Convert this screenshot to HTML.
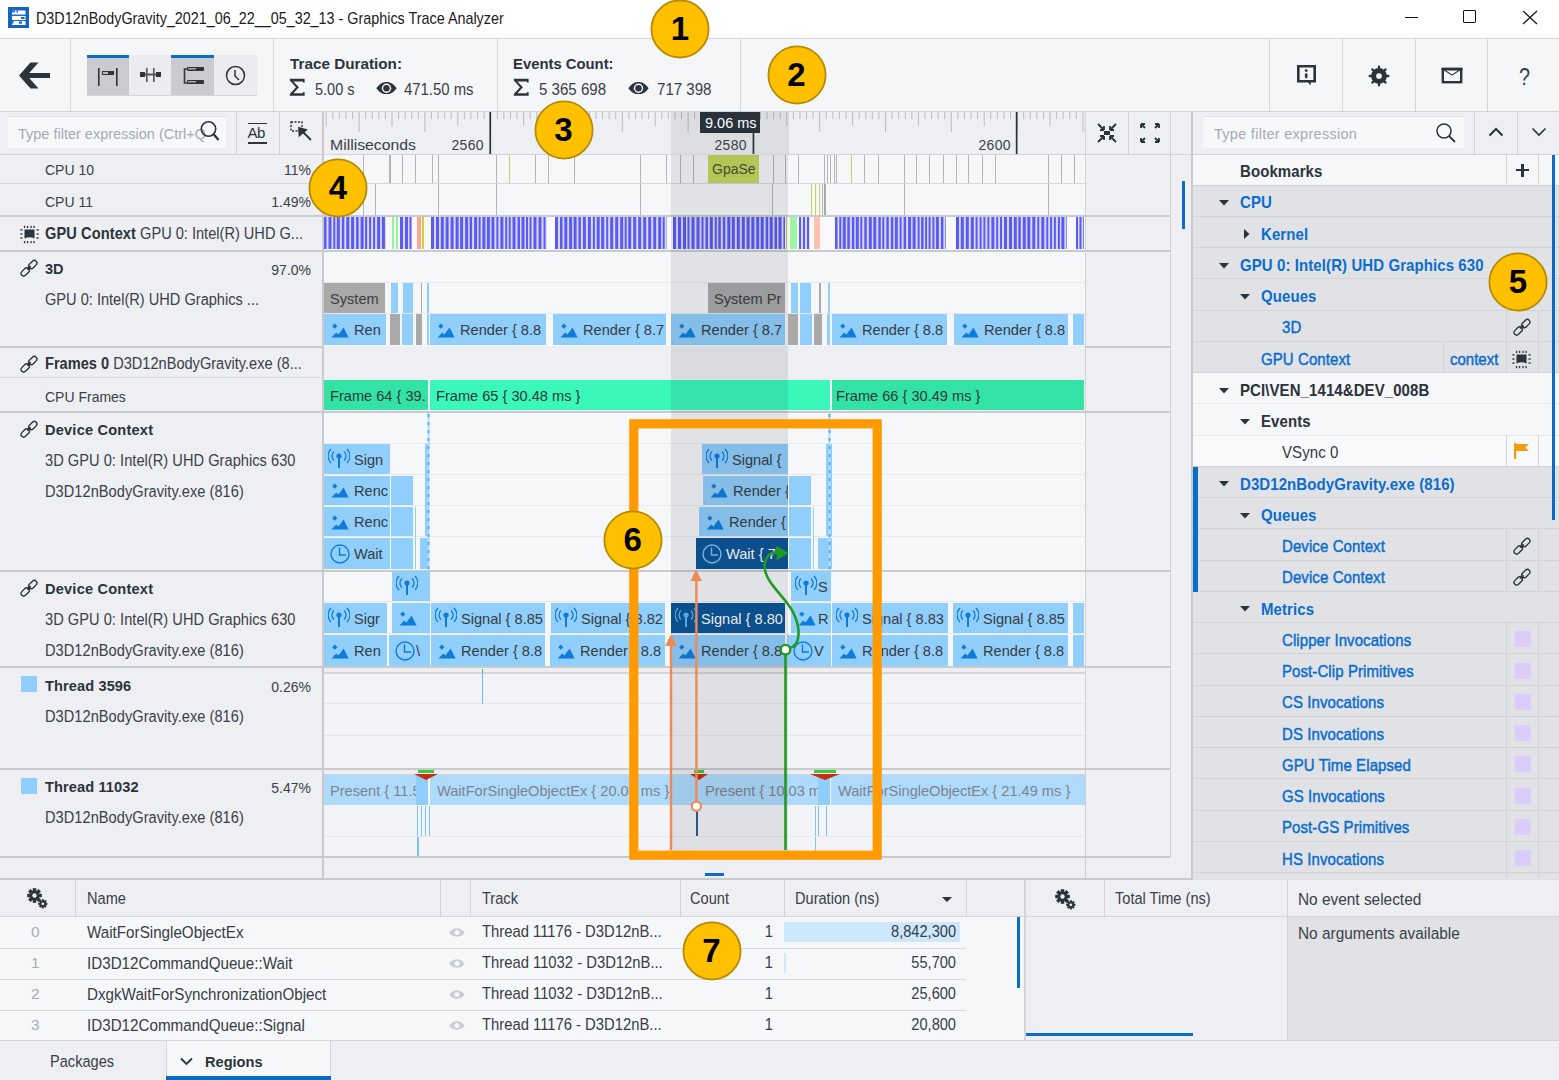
<!DOCTYPE html>
<html><head><meta charset="utf-8"><style>
html,body{margin:0;padding:0;width:1559px;height:1080px;overflow:hidden;background:#eeeff2;}
body{position:relative;font-family:"Liberation Sans",sans-serif;}
body>div,body>svg{position:absolute;}
.t{white-space:nowrap;}
</style></head><body>
<div style="left:0px;top:0px;width:1559px;height:38px;background:#ffffff;"></div>
<div style="left:0px;top:38px;width:1559px;height:1px;background:#d6d7da;"></div>
<svg style="position:absolute;left:8px;top:7px;" width="21" height="21" viewBox="0 0 21 21"><rect width="21" height="21" fill="#1565c8"/><path d="M4 4H17V17H4Z" fill="#1d70d0"/><rect x="4" y="3.5" width="13.5" height="4" fill="#fff"/><rect x="4" y="3.5" width="3" height="1.8" fill="#1565c8"/><rect x="8.5" y="3.5" width="1.5" height="2" fill="#1565c8"/><rect x="4" y="9" width="13.5" height="4" fill="#fff"/><rect x="13" y="10" width="3.5" height="2" fill="#1565c8"/><rect x="4" y="14" width="13.5" height="4" fill="#fff"/><rect x="4" y="14" width="1.5" height="2.5" fill="#1565c8"/><rect x="11" y="14.5" width="3" height="2.2" fill="#1565c8"/></svg>
<div class="t" style="left:36px;top:8.4px;height:21px;line-height:21px;font-size:16.40px;font-weight:normal;color:#1a1a1a;transform:scaleX(0.8760);transform-origin:0 50%;">D3D12nBodyGravity_2021_06_22__05_32_13 - Graphics Trace Analyzer</div>
<div style="left:1405px;top:17px;width:13px;height:1px;background:#111;"></div>
<div style="left:1463px;top:10px;width:11px;height:11px;border:1.3px solid #111;border-radius:1px"></div>
<svg style="position:absolute;left:1522px;top:10px;" width="16" height="15" viewBox="0 0 16 15"><path d="M1 1L15 14M15 1L1 14" stroke="#111" stroke-width="1.2"/></svg>
<div style="left:0px;top:39px;width:1559px;height:72px;background:#f5f6f8;"></div>
<div style="left:0px;top:111px;width:1559px;height:1px;background:#d3d4d8;"></div>
<div style="left:70px;top:39px;width:1px;height:72px;background:#d6d7da;"></div>
<div style="left:273px;top:39px;width:1px;height:72px;background:#d6d7da;"></div>
<div style="left:497px;top:39px;width:1px;height:72px;background:#d6d7da;"></div>
<div style="left:740px;top:39px;width:1px;height:72px;background:#d6d7da;"></div>
<div style="left:1269px;top:39px;width:1px;height:72px;background:#d6d7da;"></div>
<div style="left:1342px;top:39px;width:1px;height:72px;background:#d6d7da;"></div>
<div style="left:1415px;top:39px;width:1px;height:72px;background:#d6d7da;"></div>
<div style="left:1487px;top:39px;width:1px;height:72px;background:#d6d7da;"></div>
<svg style="position:absolute;left:19px;top:62px;" width="32" height="27" viewBox="0 0 32 27"><path d="M0 13.5L11.5 0.5H19.5L10.2 11H31V16H10.2L19.5 26.5H11.5Z" fill="#2b333b"/></svg>
<div style="left:87px;top:55px;width:170px;height:41px;background:#ebecef;"></div>
<div style="left:87px;top:55px;width:42px;height:41px;background:#c9cbcf;"></div>
<div style="left:171px;top:55px;width:43px;height:41px;background:#c9cbcf;"></div>
<div style="left:87px;top:55px;width:42px;height:3px;background:#0b6bc8;"></div>
<div style="left:171px;top:55px;width:43px;height:3px;background:#0b6bc8;"></div>
<div style="left:87px;top:95px;width:170px;height:1px;background:#d4d5d8;"></div>
<svg style="position:absolute;left:98px;top:68px;" width="20" height="18" viewBox="0 0 20 18"><rect x="0" y="0" width="1.6" height="18" fill="#333"/><rect x="18" y="0" width="1.6" height="18" fill="#333"/><rect x="4" y="3" width="12" height="4" fill="#333"/><rect x="5" y="4" width="5" height="2" fill="#bbb"/></svg>
<svg style="position:absolute;left:140px;top:67px;" width="22" height="16" viewBox="0 0 22 16"><rect x="0" y="5" width="5" height="5" fill="#333"/><rect x="16" y="5" width="5" height="5" fill="#333"/><rect x="6" y="1" width="1.6" height="14" fill="#555"/><rect x="13" y="1" width="1.6" height="14" fill="#555"/><rect x="5" y="6.5" width="11" height="2" fill="#555"/></svg>
<svg style="position:absolute;left:183px;top:66px;" width="22" height="20" viewBox="0 0 22 20"><path d="M4 3H1.5V17H4" stroke="#333" stroke-width="1.6" fill="none"/><rect x="4" y="1" width="17" height="4" rx="1" fill="#333"/><rect x="4" y="14" width="17" height="4" rx="1" fill="#333"/><rect x="5" y="2" width="8" height="1.5" fill="#aaa"/><rect x="5" y="15" width="8" height="1.5" fill="#aaa"/></svg>
<svg style="position:absolute;left:225px;top:65px;" width="21" height="21" viewBox="0 0 21 21"><circle cx="10.5" cy="10.5" r="9" stroke="#333" stroke-width="1.5" fill="none"/><path d="M10 5V11L14 15" stroke="#333" stroke-width="1.5" fill="none"/></svg>
<div class="t" style="left:289.5px;top:54.0px;height:20px;line-height:20px;font-size:15.50px;font-weight:bold;color:#2b333b;transform:scaleX(0.9852);transform-origin:0 50%;">Trace Duration:</div>
<svg style="position:absolute;left:289px;top:78px;" width="17" height="19" viewBox="0 0 17 19"><path d="M0.8 0.8H15.6V4.6H13.9V3.4H4.4L9.9 9.2L4.4 15.2H13.9V14H15.6V17.8H0.8V16L7 9.2L0.8 2.6Z" fill="#2b333b"/></svg>
<div class="t" style="left:314.5px;top:79.6px;height:20px;line-height:20px;font-size:16.00px;font-weight:normal;color:#3a4048;transform:scaleX(0.9063);transform-origin:0 50%;">5.00 s</div>
<svg style="position:absolute;left:376px;top:81.5px;" width="21" height="12.5" viewBox="0 0 21 12.5"><svg viewBox="0 0 21 12.5" width="21" height="12.5"><path d="M0.3 6.25C4 1 8 0.1 10.5 0.1S17 1 20.7 6.25C17 11.5 13 12.4 10.5 12.4S4 11.5 0.3 6.25Z" fill="#2b333b"/><circle cx="10.5" cy="6.25" r="4.7" fill="#f5f6f8"/><circle cx="10.5" cy="6.25" r="3.2" fill="#2b333b"/></svg></svg>
<div class="t" style="left:404px;top:79.6px;height:20px;line-height:20px;font-size:16.00px;font-weight:normal;color:#3a4048;transform:scaleX(0.9303);transform-origin:0 50%;">471.50 ms</div>
<div class="t" style="left:513px;top:54.0px;height:20px;line-height:20px;font-size:15.50px;font-weight:bold;color:#2b333b;transform:scaleX(0.9567);transform-origin:0 50%;">Events Count:</div>
<svg style="position:absolute;left:513px;top:78px;" width="17" height="19" viewBox="0 0 17 19"><path d="M0.8 0.8H15.6V4.6H13.9V3.4H4.4L9.9 9.2L4.4 15.2H13.9V14H15.6V17.8H0.8V16L7 9.2L0.8 2.6Z" fill="#2b333b"/></svg>
<div class="t" style="left:538.5px;top:79.6px;height:20px;line-height:20px;font-size:16.00px;font-weight:normal;color:#3a4048;transform:scaleX(0.9414);transform-origin:0 50%;">5 365 698</div>
<svg style="position:absolute;left:628px;top:81.5px;" width="21" height="12.5" viewBox="0 0 21 12.5"><svg viewBox="0 0 21 12.5" width="21" height="12.5"><path d="M0.3 6.25C4 1 8 0.1 10.5 0.1S17 1 20.7 6.25C17 11.5 13 12.4 10.5 12.4S4 11.5 0.3 6.25Z" fill="#2b333b"/><circle cx="10.5" cy="6.25" r="4.7" fill="#f5f6f8"/><circle cx="10.5" cy="6.25" r="3.2" fill="#2b333b"/></svg></svg>
<div class="t" style="left:656.5px;top:79.6px;height:20px;line-height:20px;font-size:16.00px;font-weight:normal;color:#3a4048;transform:scaleX(0.9424);transform-origin:0 50%;">717 398</div>
<svg style="position:absolute;left:1296px;top:64px;" width="21" height="23" viewBox="0 0 21 23"><path d="M2.3 2.3H18.7V17.2H2.3Z" stroke="#2b333b" stroke-width="2.6" fill="none"/><path d="M11 17L14.5 21.5L15 17Z" fill="#2b333b"/><circle cx="10.2" cy="6.6" r="1.4" fill="#2b333b"/><rect x="8.9" y="9.2" width="2.6" height="5" rx="1.2" fill="#2b333b"/></svg>
<svg style="position:absolute;left:1368px;top:65px;" width="22" height="22" viewBox="0 0 22 22"><circle cx="11" cy="11" r="7.92" fill="#2b333b"/><rect x="9.85" y="0.55" width="2.3" height="5.50" rx="1.1" fill="#2b333b" transform="rotate(0.0 11 11)"/><rect x="9.85" y="0.55" width="2.3" height="5.50" rx="1.1" fill="#2b333b" transform="rotate(45.0 11 11)"/><rect x="9.85" y="0.55" width="2.3" height="5.50" rx="1.1" fill="#2b333b" transform="rotate(90.0 11 11)"/><rect x="9.85" y="0.55" width="2.3" height="5.50" rx="1.1" fill="#2b333b" transform="rotate(135.0 11 11)"/><rect x="9.85" y="0.55" width="2.3" height="5.50" rx="1.1" fill="#2b333b" transform="rotate(180.0 11 11)"/><rect x="9.85" y="0.55" width="2.3" height="5.50" rx="1.1" fill="#2b333b" transform="rotate(225.0 11 11)"/><rect x="9.85" y="0.55" width="2.3" height="5.50" rx="1.1" fill="#2b333b" transform="rotate(270.0 11 11)"/><rect x="9.85" y="0.55" width="2.3" height="5.50" rx="1.1" fill="#2b333b" transform="rotate(315.0 11 11)"/><circle cx="11" cy="11" r="2.86" fill="#f5f6f8"/></svg>
<svg style="position:absolute;left:1441px;top:67px;" width="22" height="17" viewBox="0 0 22 17"><rect x="1.8" y="2" width="18.4" height="13.2" stroke="#2b333b" stroke-width="2.4" fill="none"/><rect x="0.6" y="0.8" width="20.8" height="2.6" fill="#2b333b"/><path d="M2.5 2.5L11 8.2L19.5 2.5" stroke="#2b333b" stroke-width="1.1" fill="none"/></svg>
<div class="t" style="left:1518.5px;top:63.0px;height:29px;line-height:29px;font-size:23.00px;font-weight:normal;color:#3a4048;transform:scaleX(0.8600);transform-origin:0 50%;">?</div>
<div style="left:0px;top:112px;width:1559px;height:42px;background:#eeeff2;"></div>
<div style="left:0px;top:154px;width:1191px;height:1px;background:#d3d4d8;"></div>
<div style="left:8px;top:116px;width:218px;height:32px;background:#f7f8fa;border-top:1.5px solid #dfe0e3;box-sizing:border-box"></div>
<div class="t" style="left:18px;top:123.5px;height:19px;line-height:19px;font-size:15.37px;font-weight:normal;color:#a3abb5;transform:scaleX(0.9434);transform-origin:0 50%;width:200px;overflow:hidden;white-space:nowrap">Type filter expression (Ctrl+Q</div>
<svg style="position:absolute;left:198px;top:119px;" width="24" height="24" viewBox="0 0 24 24"><circle cx="10.5" cy="10" r="7.2" stroke="#2b333b" stroke-width="1.6" fill="none"/><path d="M15.5 15L20.5 21" stroke="#2b333b" stroke-width="2.2"/></svg>
<div style="left:236px;top:112px;width:1px;height:42px;background:#d3d4d8;"></div>
<div style="left:279px;top:112px;width:1px;height:42px;background:#d3d4d8;"></div>
<div style="left:322px;top:112px;width:2px;height:42px;background:#c9cacd;"></div>
<div style="left:248px;top:123px;width:19px;height:1px;background:#2b333b;"></div>
<div class="t" style="left:247.5px;top:123.0px;height:19px;line-height:19px;font-size:15.00px;font-weight:normal;color:#2b333b;letter-spacing:-0.5px">Ab</div>
<div style="left:248px;top:142px;width:19px;height:1.5px;background:#2b333b;"></div>
<svg style="position:absolute;left:290px;top:121px;" width="24" height="24" viewBox="0 0 24 24"><rect x="1" y="1" width="11" height="9" stroke="#2b333b" stroke-width="1.4" stroke-dasharray="2 1.5" fill="none"/><path d="M9 7L21 19M9 7L9.5 14.5L16 9Z" stroke="#2b333b" stroke-width="1.8" fill="#2b333b"/></svg>
<svg style="position:absolute;left:324px;top:112px;" width="761" height="42" viewBox="0 0 761 42"><rect x="1.70" y="0" width="1" height="14" fill="#b9bcc1"/><rect x="8.28" y="0" width="1" height="7" fill="#b9bcc1"/><rect x="14.86" y="0" width="1" height="7" fill="#b9bcc1"/><rect x="21.44" y="0" width="1" height="7" fill="#b9bcc1"/><rect x="28.02" y="0" width="1" height="7" fill="#b9bcc1"/><rect x="34.60" y="0" width="1" height="20" fill="#b9bcc1"/><rect x="41.18" y="0" width="1" height="7" fill="#b9bcc1"/><rect x="47.76" y="0" width="1" height="7" fill="#b9bcc1"/><rect x="54.34" y="0" width="1" height="7" fill="#b9bcc1"/><rect x="60.92" y="0" width="1" height="7" fill="#b9bcc1"/><rect x="67.50" y="0" width="1" height="14" fill="#b9bcc1"/><rect x="74.08" y="0" width="1" height="7" fill="#b9bcc1"/><rect x="80.66" y="0" width="1" height="7" fill="#b9bcc1"/><rect x="87.24" y="0" width="1" height="7" fill="#b9bcc1"/><rect x="93.82" y="0" width="1" height="7" fill="#b9bcc1"/><rect x="100.40" y="0" width="1" height="20" fill="#b9bcc1"/><rect x="106.98" y="0" width="1" height="7" fill="#b9bcc1"/><rect x="113.56" y="0" width="1" height="7" fill="#b9bcc1"/><rect x="120.14" y="0" width="1" height="7" fill="#b9bcc1"/><rect x="126.72" y="0" width="1" height="7" fill="#b9bcc1"/><rect x="133.30" y="0" width="1" height="14" fill="#b9bcc1"/><rect x="139.88" y="0" width="1" height="7" fill="#b9bcc1"/><rect x="146.46" y="0" width="1" height="7" fill="#b9bcc1"/><rect x="153.04" y="0" width="1" height="7" fill="#b9bcc1"/><rect x="159.62" y="0" width="1" height="7" fill="#b9bcc1"/><rect x="166.20" y="0" width="1" height="20" fill="#b9bcc1"/><rect x="172.78" y="0" width="1" height="7" fill="#b9bcc1"/><rect x="179.36" y="0" width="1" height="7" fill="#b9bcc1"/><rect x="185.94" y="0" width="1" height="7" fill="#b9bcc1"/><rect x="192.52" y="0" width="1" height="7" fill="#b9bcc1"/><rect x="199.10" y="0" width="1" height="14" fill="#b9bcc1"/><rect x="205.68" y="0" width="1" height="7" fill="#b9bcc1"/><rect x="212.26" y="0" width="1" height="7" fill="#b9bcc1"/><rect x="218.84" y="0" width="1" height="7" fill="#b9bcc1"/><rect x="225.42" y="0" width="1" height="7" fill="#b9bcc1"/><rect x="232.00" y="0" width="1" height="20" fill="#b9bcc1"/><rect x="238.58" y="0" width="1" height="7" fill="#b9bcc1"/><rect x="245.16" y="0" width="1" height="7" fill="#b9bcc1"/><rect x="251.74" y="0" width="1" height="7" fill="#b9bcc1"/><rect x="258.32" y="0" width="1" height="7" fill="#b9bcc1"/><rect x="264.90" y="0" width="1" height="14" fill="#b9bcc1"/><rect x="271.48" y="0" width="1" height="7" fill="#b9bcc1"/><rect x="278.06" y="0" width="1" height="7" fill="#b9bcc1"/><rect x="284.64" y="0" width="1" height="7" fill="#b9bcc1"/><rect x="291.22" y="0" width="1" height="7" fill="#b9bcc1"/><rect x="297.80" y="0" width="1" height="20" fill="#b9bcc1"/><rect x="304.38" y="0" width="1" height="7" fill="#b9bcc1"/><rect x="310.96" y="0" width="1" height="7" fill="#b9bcc1"/><rect x="317.54" y="0" width="1" height="7" fill="#b9bcc1"/><rect x="324.12" y="0" width="1" height="7" fill="#b9bcc1"/><rect x="330.70" y="0" width="1" height="14" fill="#b9bcc1"/><rect x="337.28" y="0" width="1" height="7" fill="#b9bcc1"/><rect x="343.86" y="0" width="1" height="7" fill="#b9bcc1"/><rect x="350.44" y="0" width="1" height="7" fill="#b9bcc1"/><rect x="357.02" y="0" width="1" height="7" fill="#b9bcc1"/><rect x="363.60" y="0" width="1" height="20" fill="#b9bcc1"/><rect x="370.18" y="0" width="1" height="7" fill="#b9bcc1"/><rect x="376.76" y="0" width="1" height="7" fill="#b9bcc1"/><rect x="383.34" y="0" width="1" height="7" fill="#b9bcc1"/><rect x="389.92" y="0" width="1" height="7" fill="#b9bcc1"/><rect x="396.50" y="0" width="1" height="14" fill="#b9bcc1"/><rect x="403.08" y="0" width="1" height="7" fill="#b9bcc1"/><rect x="409.66" y="0" width="1" height="7" fill="#b9bcc1"/><rect x="416.24" y="0" width="1" height="7" fill="#b9bcc1"/><rect x="422.82" y="0" width="1" height="7" fill="#b9bcc1"/><rect x="429.40" y="0" width="1" height="20" fill="#b9bcc1"/><rect x="435.98" y="0" width="1" height="7" fill="#b9bcc1"/><rect x="442.56" y="0" width="1" height="7" fill="#b9bcc1"/><rect x="449.14" y="0" width="1" height="7" fill="#b9bcc1"/><rect x="455.72" y="0" width="1" height="7" fill="#b9bcc1"/><rect x="462.30" y="0" width="1" height="14" fill="#b9bcc1"/><rect x="468.88" y="0" width="1" height="7" fill="#b9bcc1"/><rect x="475.46" y="0" width="1" height="7" fill="#b9bcc1"/><rect x="482.04" y="0" width="1" height="7" fill="#b9bcc1"/><rect x="488.62" y="0" width="1" height="7" fill="#b9bcc1"/><rect x="495.20" y="0" width="1" height="20" fill="#b9bcc1"/><rect x="501.78" y="0" width="1" height="7" fill="#b9bcc1"/><rect x="508.36" y="0" width="1" height="7" fill="#b9bcc1"/><rect x="514.94" y="0" width="1" height="7" fill="#b9bcc1"/><rect x="521.52" y="0" width="1" height="7" fill="#b9bcc1"/><rect x="528.10" y="0" width="1" height="14" fill="#b9bcc1"/><rect x="534.68" y="0" width="1" height="7" fill="#b9bcc1"/><rect x="541.26" y="0" width="1" height="7" fill="#b9bcc1"/><rect x="547.84" y="0" width="1" height="7" fill="#b9bcc1"/><rect x="554.42" y="0" width="1" height="7" fill="#b9bcc1"/><rect x="561.00" y="0" width="1" height="20" fill="#b9bcc1"/><rect x="567.58" y="0" width="1" height="7" fill="#b9bcc1"/><rect x="574.16" y="0" width="1" height="7" fill="#b9bcc1"/><rect x="580.74" y="0" width="1" height="7" fill="#b9bcc1"/><rect x="587.32" y="0" width="1" height="7" fill="#b9bcc1"/><rect x="593.90" y="0" width="1" height="14" fill="#b9bcc1"/><rect x="600.48" y="0" width="1" height="7" fill="#b9bcc1"/><rect x="607.06" y="0" width="1" height="7" fill="#b9bcc1"/><rect x="613.64" y="0" width="1" height="7" fill="#b9bcc1"/><rect x="620.22" y="0" width="1" height="7" fill="#b9bcc1"/><rect x="626.80" y="0" width="1" height="20" fill="#b9bcc1"/><rect x="633.38" y="0" width="1" height="7" fill="#b9bcc1"/><rect x="639.96" y="0" width="1" height="7" fill="#b9bcc1"/><rect x="646.54" y="0" width="1" height="7" fill="#b9bcc1"/><rect x="653.12" y="0" width="1" height="7" fill="#b9bcc1"/><rect x="659.70" y="0" width="1" height="14" fill="#b9bcc1"/><rect x="666.28" y="0" width="1" height="7" fill="#b9bcc1"/><rect x="672.86" y="0" width="1" height="7" fill="#b9bcc1"/><rect x="679.44" y="0" width="1" height="7" fill="#b9bcc1"/><rect x="686.02" y="0" width="1" height="7" fill="#b9bcc1"/><rect x="692.60" y="0" width="1" height="20" fill="#b9bcc1"/><rect x="699.18" y="0" width="1" height="7" fill="#b9bcc1"/><rect x="705.76" y="0" width="1" height="7" fill="#b9bcc1"/><rect x="712.34" y="0" width="1" height="7" fill="#b9bcc1"/><rect x="718.92" y="0" width="1" height="7" fill="#b9bcc1"/><rect x="725.50" y="0" width="1" height="14" fill="#b9bcc1"/><rect x="732.08" y="0" width="1" height="7" fill="#b9bcc1"/><rect x="738.66" y="0" width="1" height="7" fill="#b9bcc1"/><rect x="745.24" y="0" width="1" height="7" fill="#b9bcc1"/><rect x="751.82" y="0" width="1" height="7" fill="#b9bcc1"/><rect x="758.40" y="0" width="1" height="20" fill="#b9bcc1"/></svg>
<div style="left:671px;top:112px;width:118px;height:42px;background:rgba(40,45,60,0.09);"></div>
<svg style="position:absolute;left:324px;top:112px;" width="761" height="42" viewBox="0 0 761 42"><rect x="165.40" y="0" width="1.7" height="42" fill="#2b333b"/><rect x="428.60" y="0" width="1.7" height="42" fill="#2b333b"/><rect x="691.80" y="0" width="1.7" height="42" fill="#2b333b"/></svg>
<div class="t" style="left:330px;top:135.5px;height:18px;line-height:18px;font-size:14.50px;font-weight:normal;color:#3a4048;transform:scaleX(1.0890);transform-origin:0 50%;">Milliseconds</div>
<div class="t" style="left:84px;width:400px;text-align:right;top:134.5px;height:20px;line-height:20px;font-size:15.40px;font-weight:normal;color:#3a4048;transform:scaleX(0.9091);transform-origin:100% 50%;letter-spacing:0.4px">2560</div>
<div class="t" style="left:347px;width:400px;text-align:right;top:134.5px;height:20px;line-height:20px;font-size:15.40px;font-weight:normal;color:#3a4048;transform:scaleX(0.9091);transform-origin:100% 50%;letter-spacing:0.4px">2580</div>
<div class="t" style="left:611px;width:400px;text-align:right;top:134.5px;height:20px;line-height:20px;font-size:15.40px;font-weight:normal;color:#3a4048;transform:scaleX(0.9091);transform-origin:100% 50%;letter-spacing:0.4px">2600</div>
<div style="left:700px;top:112px;width:60px;height:21px;background:#29323b;"></div>
<div class="t" style="left:704.5px;top:112.5px;height:20px;line-height:20px;font-size:15.50px;font-weight:normal;color:#ffffff;transform:scaleX(0.9341);transform-origin:0 50%;">9.06 ms</div>
<div style="left:1085px;top:112px;width:1px;height:42px;background:#d3d4d8;"></div>
<div style="left:1128px;top:112px;width:1px;height:42px;background:#d3d4d8;"></div>
<div style="left:1170px;top:112px;width:1px;height:42px;background:#d3d4d8;"></div>
<svg style="position:absolute;left:1096px;top:122px;" width="22" height="22" viewBox="0 0 22 22"><path d="M2 2L8 8M8 8V4M8 8H4M20 2L14 8M14 8V4M14 8H18M2 20L8 14M8 14V18M8 14H4M20 20L14 14M14 14V18M14 14H18" stroke="#2b333b" stroke-width="1.8" fill="none"/><rect x="8" y="9" width="6" height="4" fill="#2b333b"/></svg>
<svg style="position:absolute;left:1139px;top:122px;" width="22" height="22" viewBox="0 0 22 22"><path d="M2 2L6 6M2 2V6M2 2H6M20 2L16 6M20 2V6M20 2H16M2 20L6 16M2 20V16M2 20H6M20 20L16 16M20 20V16M20 20H16" stroke="#2b333b" stroke-width="1.8" fill="none"/></svg>
<div style="left:1191px;top:112px;width:2px;height:768px;background:#c9cacd;"></div>
<div style="left:1203px;top:116px;width:261px;height:32px;background:#f7f8fa;border-top:1.5px solid #dfe0e3;box-sizing:border-box"></div>
<div class="t" style="left:1214px;top:123.5px;height:19px;line-height:19px;font-size:15.37px;font-weight:normal;color:#a3abb5;transform:scaleX(0.9434);transform-origin:0 50%;letter-spacing:0.3px">Type filter expression</div>
<svg style="position:absolute;left:1435px;top:122px;" width="22" height="22" viewBox="0 0 22 22"><circle cx="9" cy="9" r="7" stroke="#2b333b" stroke-width="1.5" fill="none"/><path d="M14 14L20 20" stroke="#2b333b" stroke-width="1.8"/></svg>
<div style="left:1474px;top:112px;width:1px;height:42px;background:#d3d4d8;"></div>
<div style="left:1517px;top:112px;width:1px;height:42px;background:#d3d4d8;"></div>
<svg style="position:absolute;left:1488px;top:127px;" width="16" height="10" viewBox="0 0 16 10"><path d="M1.5 8.5L8 2L14.5 8.5" stroke="#2b333b" stroke-width="2" fill="none"/></svg>
<svg style="position:absolute;left:1531px;top:127px;" width="16" height="10" viewBox="0 0 16 10"><path d="M1.5 1.5L8 8L14.5 1.5" stroke="#2b333b" stroke-width="1.6" fill="none"/></svg>
<div style="left:1193px;top:154px;width:366px;height:1px;background:#d3d4d8;"></div>
<div style="left:0px;top:155px;width:323px;height:702px;background:#eeeff2;"></div>
<div style="left:324px;top:155px;width:761px;height:702px;background:#f6f7f9;"></div>
<div style="left:1086px;top:155px;width:105px;height:702px;background:#eeeff2;"></div>
<div style="left:322px;top:155px;width:2px;height:702px;background:#c9cacd;"></div>
<div style="left:1085px;top:155px;width:1px;height:702px;background:#d0d1d5;"></div>
<div style="left:1170px;top:155px;width:1px;height:702px;background:#d0d1d5;"></div>
<div style="left:1182px;top:181px;width:3px;height:48px;background:#0b6bc8;"></div>
<div style="left:0px;top:215px;width:1170px;height:2px;background:#c9cacd;"></div>
<div style="left:0px;top:250px;width:1170px;height:2px;background:#c9cacd;"></div>
<div style="left:0px;top:346px;width:1170px;height:2px;background:#c9cacd;"></div>
<div style="left:0px;top:411px;width:1170px;height:2px;background:#c9cacd;"></div>
<div style="left:0px;top:570px;width:1170px;height:2px;background:#c9cacd;"></div>
<div style="left:0px;top:666px;width:1170px;height:2px;background:#c9cacd;"></div>
<div style="left:0px;top:768px;width:1170px;height:2px;background:#c9cacd;"></div>
<div style="left:0px;top:856px;width:1170px;height:2px;background:#c9cacd;"></div>
<div style="left:0px;top:183px;width:1085px;height:1px;background:#d6d7db;"></div>
<div style="left:0px;top:377px;width:1085px;height:1px;background:#d6d7db;"></div>
<div style="left:324px;top:346px;width:761px;height:33px;background:#eeeff2;"></div>
<div style="left:324px;top:282px;width:761px;height:1px;background:#e8e9ec;"></div>
<div style="left:324px;top:313px;width:761px;height:1px;background:#e8e9ec;"></div>
<div style="left:324px;top:443px;width:761px;height:1px;background:#e8e9ec;"></div>
<div style="left:324px;top:474px;width:761px;height:1px;background:#e8e9ec;"></div>
<div style="left:324px;top:505px;width:761px;height:1px;background:#e8e9ec;"></div>
<div style="left:324px;top:536px;width:761px;height:1px;background:#e8e9ec;"></div>
<div style="left:324px;top:601px;width:761px;height:1px;background:#e8e9ec;"></div>
<div style="left:324px;top:633px;width:761px;height:1px;background:#e8e9ec;"></div>
<div style="left:324px;top:703px;width:761px;height:1px;background:#e8e9ec;"></div>
<div style="left:324px;top:735px;width:761px;height:1px;background:#e8e9ec;"></div>
<div style="left:324px;top:805px;width:761px;height:1px;background:#e8e9ec;"></div>
<div style="left:324px;top:837px;width:761px;height:1px;background:#e8e9ec;"></div>
<div class="t" style="left:45px;top:159.5px;height:19px;line-height:19px;font-size:14.98px;font-weight:normal;color:#3a4048;transform:scaleX(0.9346);transform-origin:0 50%;">CPU 10</div>
<div class="t" style="left:-89px;width:400px;text-align:right;top:159.5px;height:19px;line-height:19px;font-size:14.98px;font-weight:normal;color:#3a4048;transform:scaleX(0.9346);transform-origin:100% 50%;">11%</div>
<div class="t" style="left:45px;top:191.5px;height:19px;line-height:19px;font-size:14.98px;font-weight:normal;color:#3a4048;transform:scaleX(0.9346);transform-origin:0 50%;">CPU 11</div>
<div class="t" style="left:-89px;width:400px;text-align:right;top:191.5px;height:19px;line-height:19px;font-size:14.98px;font-weight:normal;color:#3a4048;transform:scaleX(0.9346);transform-origin:100% 50%;">1.49%</div>
<svg style="position:absolute;left:20px;top:225px;" width="19" height="19" viewBox="0 0 19 19"><path d="M4.5 4.5H14.5V13.5Q9.5 11 4.5 13.5Z" fill="#2b333b"/><rect x="3.9" y="0.8" width="1.3" height="2.2" fill="#2b333b"/><rect x="3.9" y="16" width="1.3" height="2.2" fill="#2b333b"/><rect x="6.9" y="0.8" width="1.3" height="2.2" fill="#2b333b"/><rect x="6.9" y="16" width="1.3" height="2.2" fill="#2b333b"/><rect x="10.4" y="0.8" width="1.3" height="2.2" fill="#2b333b"/><rect x="10.4" y="16" width="1.3" height="2.2" fill="#2b333b"/><rect x="13.4" y="0.8" width="1.3" height="2.2" fill="#2b333b"/><rect x="13.4" y="16" width="1.3" height="2.2" fill="#2b333b"/><rect x="0.3" y="4.2" width="2.2" height="1.3" fill="#2b333b"/><rect x="16.5" y="4.2" width="2.2" height="1.3" fill="#2b333b"/><rect x="0.3" y="8.4" width="2.2" height="1.3" fill="#2b333b"/><rect x="16.5" y="8.4" width="2.2" height="1.3" fill="#2b333b"/><rect x="0.3" y="12.4" width="2.2" height="1.3" fill="#2b333b"/><rect x="16.5" y="12.4" width="2.2" height="1.3" fill="#2b333b"/></svg>
<div class="t" style="left:45px;top:224.0px;height:20px;line-height:20px;font-size:15.62px;font-weight:normal;color:#3a4048;transform:scaleX(0.9346);transform-origin:0 50%;"><b style="color:#2b333b;letter-spacing:0.1px">GPU Context</b>&nbsp;GPU 0: Intel(R) UHD G...</div>
<svg style="position:absolute;left:19px;top:258px;" width="20" height="20" viewBox="0 0 20 20"><g fill="none" stroke="#2b333b" stroke-width="1.35"><rect x="11.2" y="1.8" width="5.2" height="9.5" rx="2.6" transform="rotate(45 13.8 6.55)"/><rect x="3.6" y="9.2" width="5.2" height="9.5" rx="2.6" transform="rotate(45 6.2 13.95)"/><path d="M8.3 11.7L11.7 8.3" stroke-width="1.8"/></g></svg>
<div class="t" style="left:45px;top:260.0px;height:18px;line-height:18px;font-size:14.50px;font-weight:bold;color:#2b333b;">3D</div>
<div class="t" style="left:-89px;width:400px;text-align:right;top:259.5px;height:19px;line-height:19px;font-size:14.98px;font-weight:normal;color:#3a4048;transform:scaleX(0.9346);transform-origin:100% 50%;">97.0%</div>
<div class="t" style="left:45px;top:290.0px;height:20px;line-height:20px;font-size:15.62px;font-weight:normal;color:#3a4048;transform:scaleX(0.9346);transform-origin:0 50%;">GPU 0: Intel(R) UHD Graphics ...</div>
<svg style="position:absolute;left:19px;top:354px;" width="20" height="20" viewBox="0 0 20 20"><g fill="none" stroke="#2b333b" stroke-width="1.35"><rect x="11.2" y="1.8" width="5.2" height="9.5" rx="2.6" transform="rotate(45 13.8 6.55)"/><rect x="3.6" y="9.2" width="5.2" height="9.5" rx="2.6" transform="rotate(45 6.2 13.95)"/><path d="M8.3 11.7L11.7 8.3" stroke-width="1.8"/></g></svg>
<div class="t" style="left:45px;top:354.0px;height:20px;line-height:20px;font-size:15.62px;font-weight:normal;color:#3a4048;transform:scaleX(0.9346);transform-origin:0 50%;"><b style="color:#2b333b">Frames 0</b>&nbsp;D3D12nBodyGravity.exe (8...</div>
<div class="t" style="left:45px;top:386.5px;height:19px;line-height:19px;font-size:14.98px;font-weight:normal;color:#3a4048;transform:scaleX(0.9346);transform-origin:0 50%;">CPU Frames</div>
<svg style="position:absolute;left:19px;top:419px;" width="20" height="20" viewBox="0 0 20 20"><g fill="none" stroke="#2b333b" stroke-width="1.35"><rect x="11.2" y="1.8" width="5.2" height="9.5" rx="2.6" transform="rotate(45 13.8 6.55)"/><rect x="3.6" y="9.2" width="5.2" height="9.5" rx="2.6" transform="rotate(45 6.2 13.95)"/><path d="M8.3 11.7L11.7 8.3" stroke-width="1.8"/></g></svg>
<div class="t" style="left:45px;top:421.0px;height:18px;line-height:18px;font-size:14.60px;font-weight:bold;color:#2b333b;letter-spacing:0.2px">Device Context</div>
<div class="t" style="left:45px;top:451.0px;height:20px;line-height:20px;font-size:15.62px;font-weight:normal;color:#3a4048;transform:scaleX(0.9346);transform-origin:0 50%;letter-spacing:0.05px">3D GPU 0: Intel(R) UHD Graphics 630</div>
<div class="t" style="left:45px;top:482.0px;height:20px;line-height:20px;font-size:15.62px;font-weight:normal;color:#3a4048;transform:scaleX(0.9346);transform-origin:0 50%;letter-spacing:0.05px">D3D12nBodyGravity.exe (816)</div>
<svg style="position:absolute;left:19px;top:578px;" width="20" height="20" viewBox="0 0 20 20"><g fill="none" stroke="#2b333b" stroke-width="1.35"><rect x="11.2" y="1.8" width="5.2" height="9.5" rx="2.6" transform="rotate(45 13.8 6.55)"/><rect x="3.6" y="9.2" width="5.2" height="9.5" rx="2.6" transform="rotate(45 6.2 13.95)"/><path d="M8.3 11.7L11.7 8.3" stroke-width="1.8"/></g></svg>
<div class="t" style="left:45px;top:580.0px;height:18px;line-height:18px;font-size:14.60px;font-weight:bold;color:#2b333b;letter-spacing:0.2px">Device Context</div>
<div class="t" style="left:45px;top:610.0px;height:20px;line-height:20px;font-size:15.62px;font-weight:normal;color:#3a4048;transform:scaleX(0.9346);transform-origin:0 50%;letter-spacing:0.05px">3D GPU 0: Intel(R) UHD Graphics 630</div>
<div class="t" style="left:45px;top:641.0px;height:20px;line-height:20px;font-size:15.62px;font-weight:normal;color:#3a4048;transform:scaleX(0.9346);transform-origin:0 50%;letter-spacing:0.05px">D3D12nBodyGravity.exe (816)</div>
<div style="left:21px;top:676px;width:16px;height:16px;background:#8fcdfa;"></div>
<div class="t" style="left:45px;top:677.0px;height:18px;line-height:18px;font-size:14.60px;font-weight:bold;color:#2b333b;letter-spacing:0.1px">Thread 3596</div>
<div class="t" style="left:-89px;width:400px;text-align:right;top:676.5px;height:19px;line-height:19px;font-size:14.98px;font-weight:normal;color:#3a4048;transform:scaleX(0.9346);transform-origin:100% 50%;">0.26%</div>
<div class="t" style="left:45px;top:707.0px;height:20px;line-height:20px;font-size:15.62px;font-weight:normal;color:#3a4048;transform:scaleX(0.9346);transform-origin:0 50%;letter-spacing:0.05px">D3D12nBodyGravity.exe (816)</div>
<div style="left:21px;top:778px;width:16px;height:16px;background:#8fcdfa;"></div>
<div class="t" style="left:45px;top:778.0px;height:18px;line-height:18px;font-size:14.60px;font-weight:bold;color:#2b333b;letter-spacing:0.1px">Thread 11032</div>
<div class="t" style="left:-89px;width:400px;text-align:right;top:777.5px;height:19px;line-height:19px;font-size:14.98px;font-weight:normal;color:#3a4048;transform:scaleX(0.9346);transform-origin:100% 50%;">5.47%</div>
<div class="t" style="left:45px;top:808.0px;height:20px;line-height:20px;font-size:15.62px;font-weight:normal;color:#3a4048;transform:scaleX(0.9346);transform-origin:0 50%;letter-spacing:0.05px">D3D12nBodyGravity.exe (816)</div>
<div style="left:363px;top:155px;width:1px;height:28px;background:#b4b5b8;"></div>
<div style="left:389px;top:155px;width:1.6px;height:28px;background:#b4b5b8;"></div>
<div style="left:402px;top:155px;width:1px;height:28px;background:#b4b5b8;"></div>
<div style="left:415px;top:155px;width:1px;height:28px;background:#b4b5b8;"></div>
<div style="left:432px;top:155px;width:1px;height:28px;background:#b4b5b8;"></div>
<div style="left:438px;top:155px;width:1px;height:28px;background:#b4b5b8;"></div>
<div style="left:496px;top:155px;width:1px;height:28px;background:#b4b5b8;"></div>
<div style="left:535px;top:155px;width:1px;height:28px;background:#b4b5b8;"></div>
<div style="left:548px;top:155px;width:1px;height:28px;background:#b4b5b8;"></div>
<div style="left:574px;top:155px;width:1px;height:28px;background:#b4b5b8;"></div>
<div style="left:640px;top:155px;width:1px;height:28px;background:#b4b5b8;"></div>
<div style="left:666px;top:155px;width:1px;height:28px;background:#b4b5b8;"></div>
<div style="left:680px;top:155px;width:1px;height:28px;background:#b4b5b8;"></div>
<div style="left:693px;top:155px;width:1px;height:28px;background:#b4b5b8;"></div>
<div style="left:773px;top:155px;width:1px;height:28px;background:#b4b5b8;"></div>
<div style="left:785px;top:155px;width:1px;height:28px;background:#b4b5b8;"></div>
<div style="left:798px;top:155px;width:1px;height:28px;background:#b4b5b8;"></div>
<div style="left:824px;top:155px;width:1px;height:28px;background:#b4b5b8;"></div>
<div style="left:827px;top:155px;width:1px;height:28px;background:#b4b5b8;"></div>
<div style="left:830px;top:155px;width:1px;height:28px;background:#b4b5b8;"></div>
<div style="left:834px;top:155px;width:1px;height:28px;background:#b4b5b8;"></div>
<div style="left:836px;top:155px;width:1px;height:28px;background:#b4b5b8;"></div>
<div style="left:864px;top:155px;width:1px;height:28px;background:#b4b5b8;"></div>
<div style="left:878px;top:155px;width:1px;height:28px;background:#b4b5b8;"></div>
<div style="left:904px;top:155px;width:1px;height:28px;background:#b4b5b8;"></div>
<div style="left:916px;top:155px;width:1px;height:28px;background:#b4b5b8;"></div>
<div style="left:929px;top:155px;width:1px;height:28px;background:#b4b5b8;"></div>
<div style="left:943px;top:155px;width:1px;height:28px;background:#b4b5b8;"></div>
<div style="left:956px;top:155px;width:1px;height:28px;background:#b4b5b8;"></div>
<div style="left:968px;top:155px;width:1px;height:28px;background:#b4b5b8;"></div>
<div style="left:982px;top:155px;width:1px;height:28px;background:#b4b5b8;"></div>
<div style="left:995px;top:155px;width:1px;height:28px;background:#b4b5b8;"></div>
<div style="left:1048px;top:155px;width:1px;height:28px;background:#b4b5b8;"></div>
<div style="left:1061px;top:155px;width:1px;height:28px;background:#b4b5b8;"></div>
<div style="left:1074px;top:155px;width:1px;height:28px;background:#b4b5b8;"></div>
<div style="left:509px;top:155px;width:1px;height:28px;background:#c8d060;"></div>
<div style="left:851px;top:155px;width:1px;height:28px;background:#c8d060;"></div>
<div style="left:363px;top:184px;width:1px;height:31px;background:#b4b5b8;"></div>
<div style="left:375px;top:184px;width:1px;height:31px;background:#b4b5b8;"></div>
<div style="left:438px;top:184px;width:1px;height:31px;background:#b4b5b8;"></div>
<div style="left:496px;top:184px;width:1px;height:31px;background:#b4b5b8;"></div>
<div style="left:640px;top:184px;width:1px;height:31px;background:#b4b5b8;"></div>
<div style="left:772px;top:184px;width:1px;height:31px;background:#b4b5b8;"></div>
<div style="left:822px;top:184px;width:1px;height:31px;background:#b4b5b8;"></div>
<div style="left:904px;top:184px;width:1px;height:31px;background:#b4b5b8;"></div>
<div style="left:1048px;top:184px;width:1px;height:31px;background:#b4b5b8;"></div>
<div style="left:811px;top:184px;width:1px;height:31px;background:#c8d060;"></div>
<div style="left:815px;top:184px;width:1px;height:31px;background:#c8d060;"></div>
<div style="left:819px;top:184px;width:1px;height:31px;background:#c8d060;"></div>
<div style="left:824px;top:184px;width:2px;height:31px;background:#a8a8a8;"></div>
<div class="t" style="left:708px;top:155px;width:51px;height:28px;line-height:28px;background:#c6d85a;color:#4a4f3a;font-size:14px;overflow:hidden;padding-left:4px;box-sizing:border-box">GpaSe</div>
<div style="left:324px;top:217px;width:761px;height:32px;background:#f9f9fb;"></div>
<svg style="position:absolute;left:324px;top:217px;" width="62" height="32" viewBox="0 0 62 32"><rect x="0" y="0" width="62" height="32" fill="#dadaf8"/><rect x="0.0" y="0" width="2.5" height="32" fill="#5a5af5"/><rect x="4.5" y="0" width="3.0" height="32" fill="#5a5af5"/><rect x="9.3" y="0" width="2.0" height="32" fill="#5a5af5"/><rect x="12.8" y="0" width="3.0" height="32" fill="#5a5af5"/><rect x="17.8" y="0" width="2.5" height="32" fill="#5a5af5"/><rect x="22.3" y="0" width="3.0" height="32" fill="#5a5af5"/><rect x="27.1" y="0" width="3.0" height="32" fill="#5a5af5"/><rect x="32.1" y="0" width="2.5" height="32" fill="#5a5af5"/><rect x="36.6" y="0" width="3.0" height="32" fill="#5a5af5"/><rect x="41.1" y="0" width="2.0" height="32" fill="#5a5af5"/><rect x="45.1" y="0" width="2.0" height="32" fill="#5a5af5"/><rect x="49.1" y="0" width="2.0" height="32" fill="#5a5af5"/><rect x="53.1" y="0" width="3.0" height="32" fill="#5a5af5"/><rect x="57.9" y="0" width="3.0" height="32" fill="#5a5af5"/></svg>
<svg style="position:absolute;left:400px;top:217px;" width="12" height="32" viewBox="0 0 12 32"><rect x="0" y="0" width="12" height="32" fill="#dadaf8"/><rect x="0.0" y="0" width="3.0" height="32" fill="#5a5af5"/><rect x="5.0" y="0" width="3.0" height="32" fill="#5a5af5"/><rect x="9.5" y="0" width="2.0" height="32" fill="#5a5af5"/></svg>
<svg style="position:absolute;left:431px;top:217px;" width="116" height="32" viewBox="0 0 116 32"><rect x="0" y="0" width="116" height="32" fill="#dadaf8"/><rect x="0.0" y="0" width="3.0" height="32" fill="#5a5af5"/><rect x="5.0" y="0" width="3.0" height="32" fill="#5a5af5"/><rect x="9.8" y="0" width="3.0" height="32" fill="#5a5af5"/><rect x="14.6" y="0" width="3.0" height="32" fill="#5a5af5"/><rect x="19.6" y="0" width="3.0" height="32" fill="#5a5af5"/><rect x="24.6" y="0" width="3.0" height="32" fill="#5a5af5"/><rect x="29.1" y="0" width="3.0" height="32" fill="#5a5af5"/><rect x="34.1" y="0" width="3.0" height="32" fill="#5a5af5"/><rect x="38.6" y="0" width="2.5" height="32" fill="#5a5af5"/><rect x="43.1" y="0" width="3.0" height="32" fill="#5a5af5"/><rect x="47.6" y="0" width="2.0" height="32" fill="#5a5af5"/><rect x="51.4" y="0" width="3.0" height="32" fill="#5a5af5"/><rect x="55.9" y="0" width="3.0" height="32" fill="#5a5af5"/><rect x="60.4" y="0" width="3.0" height="32" fill="#5a5af5"/><rect x="65.4" y="0" width="2.0" height="32" fill="#5a5af5"/><rect x="69.4" y="0" width="3.0" height="32" fill="#5a5af5"/><rect x="74.2" y="0" width="2.0" height="32" fill="#5a5af5"/><rect x="77.7" y="0" width="2.0" height="32" fill="#5a5af5"/><rect x="81.5" y="0" width="3.0" height="32" fill="#5a5af5"/><rect x="86.5" y="0" width="2.5" height="32" fill="#5a5af5"/><rect x="90.5" y="0" width="3.0" height="32" fill="#5a5af5"/><rect x="95.0" y="0" width="2.0" height="32" fill="#5a5af5"/><rect x="98.5" y="0" width="2.0" height="32" fill="#5a5af5"/><rect x="102.5" y="0" width="3.0" height="32" fill="#5a5af5"/><rect x="107.5" y="0" width="3.0" height="32" fill="#5a5af5"/><rect x="112.5" y="0" width="2.0" height="32" fill="#5a5af5"/></svg>
<svg style="position:absolute;left:555px;top:217px;" width="112" height="32" viewBox="0 0 112 32"><rect x="0" y="0" width="112" height="32" fill="#dadaf8"/><rect x="0.0" y="0" width="3.0" height="32" fill="#5a5af5"/><rect x="5.0" y="0" width="2.5" height="32" fill="#5a5af5"/><rect x="9.3" y="0" width="3.0" height="32" fill="#5a5af5"/><rect x="14.1" y="0" width="3.0" height="32" fill="#5a5af5"/><rect x="18.6" y="0" width="3.0" height="32" fill="#5a5af5"/><rect x="23.4" y="0" width="2.5" height="32" fill="#5a5af5"/><rect x="27.9" y="0" width="3.0" height="32" fill="#5a5af5"/><rect x="32.9" y="0" width="3.0" height="32" fill="#5a5af5"/><rect x="37.9" y="0" width="2.0" height="32" fill="#5a5af5"/><rect x="41.7" y="0" width="3.0" height="32" fill="#5a5af5"/><rect x="46.2" y="0" width="3.0" height="32" fill="#5a5af5"/><rect x="51.2" y="0" width="2.0" height="32" fill="#5a5af5"/><rect x="55.2" y="0" width="3.0" height="32" fill="#5a5af5"/><rect x="60.2" y="0" width="3.0" height="32" fill="#5a5af5"/><rect x="65.2" y="0" width="3.0" height="32" fill="#5a5af5"/><rect x="69.7" y="0" width="2.0" height="32" fill="#5a5af5"/><rect x="73.2" y="0" width="3.0" height="32" fill="#5a5af5"/><rect x="78.2" y="0" width="3.0" height="32" fill="#5a5af5"/><rect x="83.2" y="0" width="3.0" height="32" fill="#5a5af5"/><rect x="88.2" y="0" width="3.0" height="32" fill="#5a5af5"/><rect x="93.2" y="0" width="3.0" height="32" fill="#5a5af5"/><rect x="98.2" y="0" width="3.0" height="32" fill="#5a5af5"/><rect x="103.2" y="0" width="3.0" height="32" fill="#5a5af5"/><rect x="107.7" y="0" width="2.0" height="32" fill="#5a5af5"/><rect x="111.7" y="0" width="0.3" height="32" fill="#5a5af5"/></svg>
<svg style="position:absolute;left:673px;top:217px;" width="112" height="32" viewBox="0 0 112 32"><rect x="0" y="0" width="112" height="32" fill="#dadaf8"/><rect x="0.0" y="0" width="3.0" height="32" fill="#5a5af5"/><rect x="5.0" y="0" width="3.0" height="32" fill="#5a5af5"/><rect x="10.0" y="0" width="3.0" height="32" fill="#5a5af5"/><rect x="14.5" y="0" width="2.0" height="32" fill="#5a5af5"/><rect x="18.5" y="0" width="3.0" height="32" fill="#5a5af5"/><rect x="23.5" y="0" width="3.0" height="32" fill="#5a5af5"/><rect x="28.5" y="0" width="2.0" height="32" fill="#5a5af5"/><rect x="32.5" y="0" width="2.5" height="32" fill="#5a5af5"/><rect x="36.8" y="0" width="3.0" height="32" fill="#5a5af5"/><rect x="41.8" y="0" width="2.0" height="32" fill="#5a5af5"/><rect x="45.3" y="0" width="2.5" height="32" fill="#5a5af5"/><rect x="49.8" y="0" width="2.5" height="32" fill="#5a5af5"/><rect x="54.3" y="0" width="3.0" height="32" fill="#5a5af5"/><rect x="58.8" y="0" width="3.0" height="32" fill="#5a5af5"/><rect x="63.8" y="0" width="3.0" height="32" fill="#5a5af5"/><rect x="68.8" y="0" width="3.0" height="32" fill="#5a5af5"/><rect x="73.6" y="0" width="3.0" height="32" fill="#5a5af5"/><rect x="78.4" y="0" width="3.0" height="32" fill="#5a5af5"/><rect x="83.2" y="0" width="3.0" height="32" fill="#5a5af5"/><rect x="87.7" y="0" width="3.0" height="32" fill="#5a5af5"/><rect x="92.7" y="0" width="2.5" height="32" fill="#5a5af5"/><rect x="96.7" y="0" width="3.0" height="32" fill="#5a5af5"/><rect x="101.5" y="0" width="2.5" height="32" fill="#5a5af5"/><rect x="105.5" y="0" width="3.0" height="32" fill="#5a5af5"/><rect x="110.5" y="0" width="1.5" height="32" fill="#5a5af5"/></svg>
<svg style="position:absolute;left:799px;top:217px;" width="11" height="32" viewBox="0 0 11 32"><rect x="0" y="0" width="11" height="32" fill="#dadaf8"/><rect x="0.0" y="0" width="2.0" height="32" fill="#5a5af5"/><rect x="4.0" y="0" width="2.0" height="32" fill="#5a5af5"/><rect x="8.0" y="0" width="2.0" height="32" fill="#5a5af5"/></svg>
<svg style="position:absolute;left:835px;top:217px;" width="111" height="32" viewBox="0 0 111 32"><rect x="0" y="0" width="111" height="32" fill="#dadaf8"/><rect x="0.0" y="0" width="2.5" height="32" fill="#5a5af5"/><rect x="4.3" y="0" width="2.0" height="32" fill="#5a5af5"/><rect x="7.8" y="0" width="3.0" height="32" fill="#5a5af5"/><rect x="12.3" y="0" width="2.5" height="32" fill="#5a5af5"/><rect x="16.8" y="0" width="2.5" height="32" fill="#5a5af5"/><rect x="20.8" y="0" width="3.0" height="32" fill="#5a5af5"/><rect x="25.3" y="0" width="2.0" height="32" fill="#5a5af5"/><rect x="29.3" y="0" width="2.5" height="32" fill="#5a5af5"/><rect x="33.8" y="0" width="3.0" height="32" fill="#5a5af5"/><rect x="38.3" y="0" width="3.0" height="32" fill="#5a5af5"/><rect x="43.3" y="0" width="2.5" height="32" fill="#5a5af5"/><rect x="47.3" y="0" width="2.0" height="32" fill="#5a5af5"/><rect x="51.3" y="0" width="2.5" height="32" fill="#5a5af5"/><rect x="55.8" y="0" width="2.5" height="32" fill="#5a5af5"/><rect x="59.8" y="0" width="3.0" height="32" fill="#5a5af5"/><rect x="64.6" y="0" width="2.0" height="32" fill="#5a5af5"/><rect x="68.6" y="0" width="2.5" height="32" fill="#5a5af5"/><rect x="73.1" y="0" width="3.0" height="32" fill="#5a5af5"/><rect x="77.6" y="0" width="3.0" height="32" fill="#5a5af5"/><rect x="82.6" y="0" width="2.0" height="32" fill="#5a5af5"/><rect x="86.1" y="0" width="2.5" height="32" fill="#5a5af5"/><rect x="90.1" y="0" width="2.0" height="32" fill="#5a5af5"/><rect x="93.6" y="0" width="2.0" height="32" fill="#5a5af5"/><rect x="97.4" y="0" width="2.0" height="32" fill="#5a5af5"/><rect x="100.9" y="0" width="3.0" height="32" fill="#5a5af5"/><rect x="105.9" y="0" width="2.5" height="32" fill="#5a5af5"/><rect x="110.4" y="0" width="0.6" height="32" fill="#5a5af5"/></svg>
<svg style="position:absolute;left:956px;top:217px;" width="111" height="32" viewBox="0 0 111 32"><rect x="0" y="0" width="111" height="32" fill="#dadaf8"/><rect x="0.0" y="0" width="3.0" height="32" fill="#5a5af5"/><rect x="4.8" y="0" width="3.0" height="32" fill="#5a5af5"/><rect x="9.8" y="0" width="3.0" height="32" fill="#5a5af5"/><rect x="14.8" y="0" width="3.0" height="32" fill="#5a5af5"/><rect x="19.6" y="0" width="2.0" height="32" fill="#5a5af5"/><rect x="23.6" y="0" width="2.0" height="32" fill="#5a5af5"/><rect x="27.4" y="0" width="2.0" height="32" fill="#5a5af5"/><rect x="31.4" y="0" width="2.0" height="32" fill="#5a5af5"/><rect x="35.4" y="0" width="3.0" height="32" fill="#5a5af5"/><rect x="40.2" y="0" width="2.0" height="32" fill="#5a5af5"/><rect x="44.0" y="0" width="2.0" height="32" fill="#5a5af5"/><rect x="48.0" y="0" width="3.0" height="32" fill="#5a5af5"/><rect x="53.0" y="0" width="3.0" height="32" fill="#5a5af5"/><rect x="57.8" y="0" width="3.0" height="32" fill="#5a5af5"/><rect x="62.3" y="0" width="2.5" height="32" fill="#5a5af5"/><rect x="66.8" y="0" width="3.0" height="32" fill="#5a5af5"/><rect x="71.3" y="0" width="3.0" height="32" fill="#5a5af5"/><rect x="76.3" y="0" width="3.0" height="32" fill="#5a5af5"/><rect x="81.3" y="0" width="2.0" height="32" fill="#5a5af5"/><rect x="85.3" y="0" width="3.0" height="32" fill="#5a5af5"/><rect x="90.3" y="0" width="2.0" height="32" fill="#5a5af5"/><rect x="94.1" y="0" width="2.0" height="32" fill="#5a5af5"/><rect x="97.9" y="0" width="2.0" height="32" fill="#5a5af5"/><rect x="101.9" y="0" width="2.0" height="32" fill="#5a5af5"/><rect x="105.4" y="0" width="3.0" height="32" fill="#5a5af5"/><rect x="110.4" y="0" width="0.6" height="32" fill="#5a5af5"/></svg>
<svg style="position:absolute;left:1075.6px;top:217px;" width="8.400000000000091" height="32" viewBox="0 0 8.400000000000091 32"><rect x="0" y="0" width="8.400000000000091" height="32" fill="#dadaf8"/><rect x="0.0" y="0" width="2.0" height="32" fill="#5a5af5"/><rect x="3.5" y="0" width="2.0" height="32" fill="#5a5af5"/><rect x="7.3" y="0" width="1.1" height="32" fill="#5a5af5"/></svg>
<div style="left:392px;top:217px;width:2px;height:32px;background:#90f59a;"></div>
<div style="left:396px;top:217px;width:2px;height:32px;background:#90f59a;"></div>
<div style="left:417px;top:217px;width:4px;height:32px;background:#ffa58f;"></div>
<div style="left:422px;top:217px;width:2px;height:32px;background:#d4d030;"></div>
<div style="left:786px;top:217px;width:1px;height:32px;background:#d4d030;"></div>
<div style="left:790px;top:217px;width:7px;height:32px;background:#9cf5a5;"></div>
<div style="left:814px;top:217px;width:6px;height:32px;background:#ffc0b0;"></div>
<div style="left:324px;top:283px;width:61px;height:30px;background:#a9a9a9;overflow:hidden"><div class="t" style="position:absolute;left:6px;top:1px;height:30px;line-height:30px;font-size:14.6px;color:#3d3d3d">System</div></div>
<div style="left:391px;top:283px;width:7px;height:30px;background:#90cefb;overflow:hidden"></div>
<div style="left:403px;top:283px;width:10px;height:30px;background:#90cefb;overflow:hidden"></div>
<div style="left:421px;top:283px;width:1px;height:30px;background:#a9a9a9;"></div>
<div style="left:427px;top:283px;width:1.5px;height:30px;background:#90cefb;"></div>
<div style="left:708px;top:283px;width:77px;height:30px;background:#a9a9a9;overflow:hidden"><div class="t" style="position:absolute;left:6px;top:1px;height:30px;line-height:30px;font-size:14.6px;color:#3d3d3d">System Pr</div></div>
<div style="left:791px;top:283px;width:7px;height:30px;background:#90cefb;overflow:hidden"></div>
<div style="left:800px;top:283px;width:11px;height:30px;background:#90cefb;overflow:hidden"></div>
<div style="left:819px;top:283px;width:2px;height:30px;background:#a9a9a9;"></div>
<div style="left:828px;top:283px;width:1.5px;height:30px;background:#90cefb;"></div>
<div style="left:324px;top:314px;width:62px;height:31px;background:#90cefb;overflow:hidden"><svg style="position:absolute;left:7px;top:8.5px" width="18" height="15"><path d="M3.8 0.6L6.4 3.2L3.8 5.8L1.2 3.2Z" fill="#0f7cdc"/><path d="M0.5 14.5L5.2 9.6L7.4 11.4L12.6 4.6L17.6 14.5Z" fill="#0f7cdc"/></svg><div class="t" style="position:absolute;left:30px;top:1px;height:31px;line-height:31px;font-size:14.6px;color:#373c42">Ren</div></div>
<div style="left:390px;top:314px;width:10px;height:31px;background:#a9a9a9;overflow:hidden"></div>
<div style="left:402px;top:314px;width:11px;height:31px;background:#90cefb;overflow:hidden"></div>
<div style="left:416px;top:314px;width:6px;height:31px;background:#a9a9a9;overflow:hidden"></div>
<div style="left:427px;top:314px;width:2px;height:31px;background:#90cefb;"></div>
<div style="left:430px;top:314px;width:116px;height:31px;background:#90cefb;overflow:hidden"><svg style="position:absolute;left:7px;top:8.5px" width="18" height="15"><path d="M3.8 0.6L6.4 3.2L3.8 5.8L1.2 3.2Z" fill="#0f7cdc"/><path d="M0.5 14.5L5.2 9.6L7.4 11.4L12.6 4.6L17.6 14.5Z" fill="#0f7cdc"/></svg><div class="t" style="position:absolute;left:30px;top:1px;height:31px;line-height:31px;font-size:14.6px;color:#373c42">Render { 8.8</div></div>
<div style="left:553px;top:314px;width:113px;height:31px;background:#90cefb;overflow:hidden"><svg style="position:absolute;left:7px;top:8.5px" width="18" height="15"><path d="M3.8 0.6L6.4 3.2L3.8 5.8L1.2 3.2Z" fill="#0f7cdc"/><path d="M0.5 14.5L5.2 9.6L7.4 11.4L12.6 4.6L17.6 14.5Z" fill="#0f7cdc"/></svg><div class="t" style="position:absolute;left:30px;top:1px;height:31px;line-height:31px;font-size:14.6px;color:#373c42">Render { 8.7</div></div>
<div style="left:671px;top:314px;width:114px;height:31px;background:#90cefb;overflow:hidden"><svg style="position:absolute;left:7px;top:8.5px" width="18" height="15"><path d="M3.8 0.6L6.4 3.2L3.8 5.8L1.2 3.2Z" fill="#0f7cdc"/><path d="M0.5 14.5L5.2 9.6L7.4 11.4L12.6 4.6L17.6 14.5Z" fill="#0f7cdc"/></svg><div class="t" style="position:absolute;left:30px;top:1px;height:31px;line-height:31px;font-size:14.6px;color:#373c42">Render { 8.7</div></div>
<div style="left:788px;top:314px;width:10px;height:31px;background:#a9a9a9;overflow:hidden"></div>
<div style="left:800px;top:314px;width:12px;height:31px;background:#90cefb;overflow:hidden"></div>
<div style="left:814px;top:314px;width:8px;height:31px;background:#a9a9a9;overflow:hidden"></div>
<div style="left:827px;top:314px;width:3px;height:31px;background:#90cefb;"></div>
<div style="left:832px;top:314px;width:115px;height:31px;background:#90cefb;overflow:hidden"><svg style="position:absolute;left:7px;top:8.5px" width="18" height="15"><path d="M3.8 0.6L6.4 3.2L3.8 5.8L1.2 3.2Z" fill="#0f7cdc"/><path d="M0.5 14.5L5.2 9.6L7.4 11.4L12.6 4.6L17.6 14.5Z" fill="#0f7cdc"/></svg><div class="t" style="position:absolute;left:30px;top:1px;height:31px;line-height:31px;font-size:14.6px;color:#373c42">Render { 8.8</div></div>
<div style="left:954px;top:314px;width:114px;height:31px;background:#90cefb;overflow:hidden"><svg style="position:absolute;left:7px;top:8.5px" width="18" height="15"><path d="M3.8 0.6L6.4 3.2L3.8 5.8L1.2 3.2Z" fill="#0f7cdc"/><path d="M0.5 14.5L5.2 9.6L7.4 11.4L12.6 4.6L17.6 14.5Z" fill="#0f7cdc"/></svg><div class="t" style="position:absolute;left:30px;top:1px;height:31px;line-height:31px;font-size:14.6px;color:#373c42">Render { 8.8</div></div>
<div style="left:1073px;top:314px;width:11px;height:31px;background:#90cefb;overflow:hidden"></div>
<div style="left:324px;top:380px;width:104px;height:30px;background:#33e3a6;overflow:hidden"><div class="t" style="position:absolute;left:6px;top:1px;height:30px;line-height:30px;font-size:14.6px;color:#2d3a36">Frame 64 { 39.</div></div>
<div style="left:430px;top:380px;width:400px;height:30px;background:#3af8ba;overflow:hidden"><div class="t" style="position:absolute;left:6px;top:1px;height:30px;line-height:30px;font-size:14.6px;color:#2d3a36">Frame 65 { 30.48 ms }</div></div>
<div style="left:832px;top:380px;width:252px;height:30px;background:#33e3a6;overflow:hidden"><div class="t" style="position:absolute;left:4px;top:1px;height:30px;line-height:30px;font-size:14.6px;color:#2d3a36">Frame 66 { 30.49 ms }</div></div>
<div style="left:324px;top:444px;width:66px;height:30px;background:#90cefb;overflow:hidden"><svg style="position:absolute;left:4px;top:4.0px" width="22" height="21"><g fill="none" stroke="#0f7cdc" stroke-width="1.3"><path d="M6 3.5A6 6 0 0 0 6 12.5"/><path d="M16 3.5A6 6 0 0 1 16 12.5"/><path d="M3 1A10 10 0 0 0 3 15"/><path d="M19 1A10 10 0 0 1 19 15"/></g><circle cx="11" cy="8" r="2.6" fill="#0f7cdc"/><rect x="10" y="9" width="2" height="11" fill="#0f7cdc"/></svg><div class="t" style="position:absolute;left:30px;top:1px;height:30px;line-height:30px;font-size:14.6px;color:#373c42">Sign</div></div>
<div style="left:324px;top:475.5px;width:66px;height:29.5px;background:#90cefb;overflow:hidden"><svg style="position:absolute;left:7px;top:7.8px" width="18" height="15"><path d="M3.8 0.6L6.4 3.2L3.8 5.8L1.2 3.2Z" fill="#0f7cdc"/><path d="M0.5 14.5L5.2 9.6L7.4 11.4L12.6 4.6L17.6 14.5Z" fill="#0f7cdc"/></svg><div class="t" style="position:absolute;left:30px;top:1px;height:29.5px;line-height:29.5px;font-size:14.6px;color:#373c42">Renc</div></div>
<div style="left:324px;top:507px;width:66px;height:29px;background:#90cefb;overflow:hidden"><svg style="position:absolute;left:7px;top:7.5px" width="18" height="15"><path d="M3.8 0.6L6.4 3.2L3.8 5.8L1.2 3.2Z" fill="#0f7cdc"/><path d="M0.5 14.5L5.2 9.6L7.4 11.4L12.6 4.6L17.6 14.5Z" fill="#0f7cdc"/></svg><div class="t" style="position:absolute;left:30px;top:1px;height:29px;line-height:29px;font-size:14.6px;color:#373c42">Renc</div></div>
<div style="left:324px;top:538px;width:66px;height:31px;background:#90cefb;overflow:hidden"><svg style="position:absolute;left:6px;top:5.5px" width="20" height="20"><circle cx="10" cy="10" r="9" fill="none" stroke="#0f7cdc" stroke-width="1.4"/><path d="M9.5 3.5V11H16" fill="none" stroke="#0f7cdc" stroke-width="1.4"/></svg><div class="t" style="position:absolute;left:30px;top:1px;height:31px;line-height:31px;font-size:14.6px;color:#373c42">Wait</div></div>
<div style="left:391px;top:475.5px;width:22px;height:29.5px;background:#90cefb;overflow:hidden"></div>
<div style="left:391px;top:507px;width:22px;height:29px;background:#90cefb;overflow:hidden"></div>
<div style="left:391px;top:538px;width:22px;height:31px;background:#90cefb;overflow:hidden"></div>
<div style="left:415px;top:507px;width:1px;height:62px;background:#90cefb;"></div>
<div style="left:425px;top:444px;width:3px;height:92px;background:#90cefb;overflow:hidden"></div>
<div style="left:420px;top:538px;width:8px;height:31px;background:#90cefb;overflow:hidden"></div>
<div style="left:702px;top:444px;width:86px;height:30px;background:#90cefb;overflow:hidden"><svg style="position:absolute;left:4px;top:4.0px" width="22" height="21"><g fill="none" stroke="#0f7cdc" stroke-width="1.3"><path d="M6 3.5A6 6 0 0 0 6 12.5"/><path d="M16 3.5A6 6 0 0 1 16 12.5"/><path d="M3 1A10 10 0 0 0 3 15"/><path d="M19 1A10 10 0 0 1 19 15"/></g><circle cx="11" cy="8" r="2.6" fill="#0f7cdc"/><rect x="10" y="9" width="2" height="11" fill="#0f7cdc"/></svg><div class="t" style="position:absolute;left:30px;top:1px;height:30px;line-height:30px;font-size:14.6px;color:#373c42">Signal {</div></div>
<div style="left:703px;top:475.5px;width:85px;height:29.5px;background:#90cefb;overflow:hidden"><svg style="position:absolute;left:7px;top:7.8px" width="18" height="15"><path d="M3.8 0.6L6.4 3.2L3.8 5.8L1.2 3.2Z" fill="#0f7cdc"/><path d="M0.5 14.5L5.2 9.6L7.4 11.4L12.6 4.6L17.6 14.5Z" fill="#0f7cdc"/></svg><div class="t" style="position:absolute;left:30px;top:1px;height:29.5px;line-height:29.5px;font-size:14.6px;color:#373c42">Render {</div></div>
<div style="left:699px;top:507px;width:89px;height:29px;background:#90cefb;overflow:hidden"><svg style="position:absolute;left:7px;top:7.5px" width="18" height="15"><path d="M3.8 0.6L6.4 3.2L3.8 5.8L1.2 3.2Z" fill="#0f7cdc"/><path d="M0.5 14.5L5.2 9.6L7.4 11.4L12.6 4.6L17.6 14.5Z" fill="#0f7cdc"/></svg><div class="t" style="position:absolute;left:30px;top:1px;height:29px;line-height:29px;font-size:14.6px;color:#373c42">Render {</div></div>
<div style="left:696px;top:538px;width:92px;height:31px;background:#0b5596;overflow:hidden"><svg style="position:absolute;left:6px;top:5.5px" width="20" height="20"><circle cx="10" cy="10" r="9" fill="none" stroke="#7cc4f8" stroke-width="1.4"/><path d="M9.5 3.5V11H16" fill="none" stroke="#7cc4f8" stroke-width="1.4"/></svg><div class="t" style="position:absolute;left:30px;top:1px;height:31px;line-height:31px;font-size:14.6px;color:#ffffff">Wait { 7.</div></div>
<div style="left:789px;top:475.5px;width:22px;height:29.5px;background:#90cefb;overflow:hidden"></div>
<div style="left:789px;top:507px;width:22px;height:29px;background:#90cefb;overflow:hidden"></div>
<div style="left:789px;top:538px;width:22px;height:31px;background:#90cefb;overflow:hidden"></div>
<div style="left:813px;top:507px;width:1px;height:62px;background:#90cefb;"></div>
<div style="left:826px;top:444px;width:6px;height:92px;background:#90cefb;overflow:hidden"></div>
<div style="left:818px;top:538px;width:14px;height:31px;background:#90cefb;overflow:hidden"></div>
<svg style="position:absolute;left:426.6px;top:412px;" width="3" height="158" viewBox="0 0 3 158"><path d="M1.5 0V158" stroke="#b3d9fb" stroke-width="2"/><path d="M1.5 2V158" stroke="#58aef6" stroke-width="2" stroke-dasharray="3 5"/></svg>
<svg style="position:absolute;left:827.6px;top:412px;" width="3" height="158" viewBox="0 0 3 158"><path d="M1.5 0V158" stroke="#b3d9fb" stroke-width="2"/><path d="M1.5 2V158" stroke="#58aef6" stroke-width="2" stroke-dasharray="3 5"/></svg>
<div style="left:392px;top:571px;width:38px;height:30px;background:#90cefb;overflow:hidden"><svg style="position:absolute;left:4px;top:4.0px" width="22" height="21"><g fill="none" stroke="#0f7cdc" stroke-width="1.3"><path d="M6 3.5A6 6 0 0 0 6 12.5"/><path d="M16 3.5A6 6 0 0 1 16 12.5"/><path d="M3 1A10 10 0 0 0 3 15"/><path d="M19 1A10 10 0 0 1 19 15"/></g><circle cx="11" cy="8" r="2.6" fill="#0f7cdc"/><rect x="10" y="9" width="2" height="11" fill="#0f7cdc"/></svg></div>
<div style="left:791px;top:571px;width:40px;height:30px;background:#90cefb;overflow:hidden"><svg style="position:absolute;left:4px;top:4.0px" width="22" height="21"><g fill="none" stroke="#0f7cdc" stroke-width="1.3"><path d="M6 3.5A6 6 0 0 0 6 12.5"/><path d="M16 3.5A6 6 0 0 1 16 12.5"/><path d="M3 1A10 10 0 0 0 3 15"/><path d="M19 1A10 10 0 0 1 19 15"/></g><circle cx="11" cy="8" r="2.6" fill="#0f7cdc"/><rect x="10" y="9" width="2" height="11" fill="#0f7cdc"/></svg><div class="t" style="position:absolute;left:27px;top:1px;height:30px;line-height:30px;font-size:14.6px;color:#373c42">S</div></div>
<div style="left:324px;top:603px;width:63px;height:30px;background:#90cefb;overflow:hidden"><svg style="position:absolute;left:4px;top:4.0px" width="22" height="21"><g fill="none" stroke="#0f7cdc" stroke-width="1.3"><path d="M6 3.5A6 6 0 0 0 6 12.5"/><path d="M16 3.5A6 6 0 0 1 16 12.5"/><path d="M3 1A10 10 0 0 0 3 15"/><path d="M19 1A10 10 0 0 1 19 15"/></g><circle cx="11" cy="8" r="2.6" fill="#0f7cdc"/><rect x="10" y="9" width="2" height="11" fill="#0f7cdc"/></svg><div class="t" style="position:absolute;left:30px;top:1px;height:30px;line-height:30px;font-size:14.6px;color:#373c42">Sigr</div></div>
<div style="left:392px;top:603px;width:38px;height:30px;background:#90cefb;overflow:hidden"><svg style="position:absolute;left:7px;top:8.0px" width="18" height="15"><path d="M3.8 0.6L6.4 3.2L3.8 5.8L1.2 3.2Z" fill="#0f7cdc"/><path d="M0.5 14.5L5.2 9.6L7.4 11.4L12.6 4.6L17.6 14.5Z" fill="#0f7cdc"/></svg></div>
<div style="left:431px;top:603px;width:114px;height:30px;background:#90cefb;overflow:hidden"><svg style="position:absolute;left:4px;top:4.0px" width="22" height="21"><g fill="none" stroke="#0f7cdc" stroke-width="1.3"><path d="M6 3.5A6 6 0 0 0 6 12.5"/><path d="M16 3.5A6 6 0 0 1 16 12.5"/><path d="M3 1A10 10 0 0 0 3 15"/><path d="M19 1A10 10 0 0 1 19 15"/></g><circle cx="11" cy="8" r="2.6" fill="#0f7cdc"/><rect x="10" y="9" width="2" height="11" fill="#0f7cdc"/></svg><div class="t" style="position:absolute;left:30px;top:1px;height:30px;line-height:30px;font-size:14.6px;color:#373c42">Signal { 8.85</div></div>
<div style="left:551px;top:603px;width:114px;height:30px;background:#90cefb;overflow:hidden"><svg style="position:absolute;left:4px;top:4.0px" width="22" height="21"><g fill="none" stroke="#0f7cdc" stroke-width="1.3"><path d="M6 3.5A6 6 0 0 0 6 12.5"/><path d="M16 3.5A6 6 0 0 1 16 12.5"/><path d="M3 1A10 10 0 0 0 3 15"/><path d="M19 1A10 10 0 0 1 19 15"/></g><circle cx="11" cy="8" r="2.6" fill="#0f7cdc"/><rect x="10" y="9" width="2" height="11" fill="#0f7cdc"/></svg><div class="t" style="position:absolute;left:30px;top:1px;height:30px;line-height:30px;font-size:14.6px;color:#373c42">Signal { 8.82</div></div>
<div style="left:671px;top:603px;width:114px;height:30px;background:#0b5596;overflow:hidden"><svg style="position:absolute;left:4px;top:4.0px" width="22" height="21"><g fill="none" stroke="#5db5f5" stroke-width="1.3"><path d="M6 3.5A6 6 0 0 0 6 12.5"/><path d="M16 3.5A6 6 0 0 1 16 12.5"/><path d="M3 1A10 10 0 0 0 3 15"/><path d="M19 1A10 10 0 0 1 19 15"/></g><circle cx="11" cy="8" r="2.6" fill="#5db5f5"/><rect x="10" y="9" width="2" height="11" fill="#5db5f5"/></svg><div class="t" style="position:absolute;left:30px;top:1px;height:30px;line-height:30px;font-size:14.6px;color:#ffffff">Signal { 8.80</div></div>
<div style="left:791px;top:603px;width:40px;height:30px;background:#90cefb;overflow:hidden"><svg style="position:absolute;left:7px;top:8.0px" width="18" height="15"><path d="M3.8 0.6L6.4 3.2L3.8 5.8L1.2 3.2Z" fill="#0f7cdc"/><path d="M0.5 14.5L5.2 9.6L7.4 11.4L12.6 4.6L17.6 14.5Z" fill="#0f7cdc"/></svg><div class="t" style="position:absolute;left:27px;top:1px;height:30px;line-height:30px;font-size:14.6px;color:#373c42">R</div></div>
<div style="left:832px;top:603px;width:116px;height:30px;background:#90cefb;overflow:hidden"><svg style="position:absolute;left:4px;top:4.0px" width="22" height="21"><g fill="none" stroke="#0f7cdc" stroke-width="1.3"><path d="M6 3.5A6 6 0 0 0 6 12.5"/><path d="M16 3.5A6 6 0 0 1 16 12.5"/><path d="M3 1A10 10 0 0 0 3 15"/><path d="M19 1A10 10 0 0 1 19 15"/></g><circle cx="11" cy="8" r="2.6" fill="#0f7cdc"/><rect x="10" y="9" width="2" height="11" fill="#0f7cdc"/></svg><div class="t" style="position:absolute;left:30px;top:1px;height:30px;line-height:30px;font-size:14.6px;color:#373c42">Signal { 8.83</div></div>
<div style="left:953px;top:603px;width:115px;height:30px;background:#90cefb;overflow:hidden"><svg style="position:absolute;left:4px;top:4.0px" width="22" height="21"><g fill="none" stroke="#0f7cdc" stroke-width="1.3"><path d="M6 3.5A6 6 0 0 0 6 12.5"/><path d="M16 3.5A6 6 0 0 1 16 12.5"/><path d="M3 1A10 10 0 0 0 3 15"/><path d="M19 1A10 10 0 0 1 19 15"/></g><circle cx="11" cy="8" r="2.6" fill="#0f7cdc"/><rect x="10" y="9" width="2" height="11" fill="#0f7cdc"/></svg><div class="t" style="position:absolute;left:30px;top:1px;height:30px;line-height:30px;font-size:14.6px;color:#373c42">Signal { 8.85</div></div>
<div style="left:1073px;top:603px;width:11px;height:30px;background:#90cefb;overflow:hidden"></div>
<div style="left:324px;top:635px;width:63px;height:31px;background:#90cefb;overflow:hidden"><svg style="position:absolute;left:7px;top:8.5px" width="18" height="15"><path d="M3.8 0.6L6.4 3.2L3.8 5.8L1.2 3.2Z" fill="#0f7cdc"/><path d="M0.5 14.5L5.2 9.6L7.4 11.4L12.6 4.6L17.6 14.5Z" fill="#0f7cdc"/></svg><div class="t" style="position:absolute;left:30px;top:1px;height:31px;line-height:31px;font-size:14.6px;color:#373c42">Ren</div></div>
<div style="left:389px;top:635px;width:41px;height:31px;background:#90cefb;overflow:hidden"><svg style="position:absolute;left:6px;top:5.5px" width="20" height="20"><circle cx="10" cy="10" r="9" fill="none" stroke="#0f7cdc" stroke-width="1.4"/><path d="M9.5 3.5V11H16" fill="none" stroke="#0f7cdc" stroke-width="1.4"/></svg><div class="t" style="position:absolute;left:27px;top:1px;height:31px;line-height:31px;font-size:14.6px;color:#373c42">\</div></div>
<div style="left:431px;top:635px;width:114px;height:31px;background:#90cefb;overflow:hidden"><svg style="position:absolute;left:7px;top:8.5px" width="18" height="15"><path d="M3.8 0.6L6.4 3.2L3.8 5.8L1.2 3.2Z" fill="#0f7cdc"/><path d="M0.5 14.5L5.2 9.6L7.4 11.4L12.6 4.6L17.6 14.5Z" fill="#0f7cdc"/></svg><div class="t" style="position:absolute;left:30px;top:1px;height:31px;line-height:31px;font-size:14.6px;color:#373c42">Render { 8.8</div></div>
<div style="left:550px;top:635px;width:115px;height:31px;background:#90cefb;overflow:hidden"><svg style="position:absolute;left:7px;top:8.5px" width="18" height="15"><path d="M3.8 0.6L6.4 3.2L3.8 5.8L1.2 3.2Z" fill="#0f7cdc"/><path d="M0.5 14.5L5.2 9.6L7.4 11.4L12.6 4.6L17.6 14.5Z" fill="#0f7cdc"/></svg><div class="t" style="position:absolute;left:30px;top:1px;height:31px;line-height:31px;font-size:14.6px;color:#373c42">Render { 8.8</div></div>
<div style="left:671px;top:635px;width:114px;height:31px;background:#90cefb;overflow:hidden"><svg style="position:absolute;left:7px;top:8.5px" width="18" height="15"><path d="M3.8 0.6L6.4 3.2L3.8 5.8L1.2 3.2Z" fill="#0f7cdc"/><path d="M0.5 14.5L5.2 9.6L7.4 11.4L12.6 4.6L17.6 14.5Z" fill="#0f7cdc"/></svg><div class="t" style="position:absolute;left:30px;top:1px;height:31px;line-height:31px;font-size:14.6px;color:#373c42">Render { 8.8</div></div>
<div style="left:787px;top:635px;width:44px;height:31px;background:#90cefb;overflow:hidden"><svg style="position:absolute;left:6px;top:5.5px" width="20" height="20"><circle cx="10" cy="10" r="9" fill="none" stroke="#0f7cdc" stroke-width="1.4"/><path d="M9.5 3.5V11H16" fill="none" stroke="#0f7cdc" stroke-width="1.4"/></svg><div class="t" style="position:absolute;left:27px;top:1px;height:31px;line-height:31px;font-size:14.6px;color:#373c42">V</div></div>
<div style="left:832px;top:635px;width:116px;height:31px;background:#90cefb;overflow:hidden"><svg style="position:absolute;left:7px;top:8.5px" width="18" height="15"><path d="M3.8 0.6L6.4 3.2L3.8 5.8L1.2 3.2Z" fill="#0f7cdc"/><path d="M0.5 14.5L5.2 9.6L7.4 11.4L12.6 4.6L17.6 14.5Z" fill="#0f7cdc"/></svg><div class="t" style="position:absolute;left:30px;top:1px;height:31px;line-height:31px;font-size:14.6px;color:#373c42">Render { 8.8</div></div>
<div style="left:953px;top:635px;width:115px;height:31px;background:#90cefb;overflow:hidden"><svg style="position:absolute;left:7px;top:8.5px" width="18" height="15"><path d="M3.8 0.6L6.4 3.2L3.8 5.8L1.2 3.2Z" fill="#0f7cdc"/><path d="M0.5 14.5L5.2 9.6L7.4 11.4L12.6 4.6L17.6 14.5Z" fill="#0f7cdc"/></svg><div class="t" style="position:absolute;left:30px;top:1px;height:31px;line-height:31px;font-size:14.6px;color:#373c42">Render { 8.8</div></div>
<div style="left:1073px;top:635px;width:11px;height:31px;background:#90cefb;overflow:hidden"></div>
<div style="left:324px;top:668px;width:761px;height:100px;background:#f3f4f7;"></div>
<div style="left:324px;top:668px;width:761px;height:4px;background:#eeeff2;"></div>
<div style="left:324px;top:672px;width:761px;height:1.5px;background:#d5d6da;"></div>
<div style="left:324px;top:703px;width:761px;height:1px;background:#e6e7ea;"></div>
<div style="left:324px;top:735px;width:761px;height:1px;background:#e6e7ea;"></div>
<div style="left:482px;top:669px;width:1px;height:35px;background:#6cb8f5;"></div>
<div style="left:482px;top:669px;width:1px;height:3px;background:#44cc44;"></div>
<div style="left:324px;top:770px;width:761px;height:86px;background:#f3f4f7;"></div>
<div style="left:324px;top:770px;width:761px;height:4px;background:#eeeff2;"></div>
<div style="left:324px;top:774px;width:761px;height:1px;background:#d5d6da;"></div>
<div style="left:324px;top:836px;width:761px;height:1px;background:#e6e7ea;"></div>
<div style="left:324px;top:775px;width:92px;height:30px;background:#aedbfb;overflow:hidden"><div class="t" style="position:absolute;left:6px;top:1px;height:30px;line-height:30px;font-size:14.6px;color:#7b848d">Present { 11.57</div></div>
<div style="left:416px;top:775px;width:12px;height:30px;background:#8fcdfa;overflow:hidden"></div>
<div style="left:430px;top:775px;width:266px;height:30px;background:#aedbfb;overflow:hidden"><div class="t" style="position:absolute;left:7px;top:1px;height:30px;line-height:30px;font-size:14.6px;color:#7b848d">WaitForSingleObjectEx { 20.02 ms }</div></div>
<div style="left:696px;top:775px;width:122px;height:30px;background:#aedbfb;overflow:hidden"><div class="t" style="position:absolute;left:9px;top:1px;height:30px;line-height:30px;font-size:14.6px;color:#7b848d">Present { 10.03 ms</div></div>
<div style="left:818px;top:775px;width:12px;height:30px;background:#8fcdfa;overflow:hidden"></div>
<div style="left:831px;top:775px;width:254px;height:30px;background:#aedbfb;overflow:hidden"><div class="t" style="position:absolute;left:7px;top:1px;height:30px;line-height:30px;font-size:14.6px;color:#7b848d">WaitForSingleObjectEx { 21.49 ms }</div></div>
<div style="left:417px;top:806px;width:1px;height:30px;background:#7fc2f7;"></div>
<div style="left:421px;top:806px;width:1px;height:30px;background:#7fc2f7;"></div>
<div style="left:425px;top:806px;width:1px;height:30px;background:#7fc2f7;"></div>
<div style="left:429px;top:806px;width:1px;height:30px;background:#7fc2f7;"></div>
<div style="left:417px;top:837px;width:1.5px;height:19px;background:#7fc2f7;"></div>
<div style="left:815px;top:806px;width:1px;height:30px;background:#7fc2f7;"></div>
<div style="left:818px;top:806px;width:1px;height:30px;background:#7fc2f7;"></div>
<div style="left:826px;top:806px;width:1px;height:30px;background:#7fc2f7;"></div>
<div style="left:815px;top:837px;width:1px;height:19px;background:#7fc2f7;"></div>
<div style="left:696px;top:806px;width:2px;height:30px;background:#2a5f95;"></div>
<div style="left:418px;top:770px;width:16px;height:3px;background:#3cc83c;"></div>
<svg style="position:absolute;left:414px;top:774px;" width="24" height="7" viewBox="0 0 24 7"><path d="M0 0H24L12.0 6Z" fill="#cc2a10"/></svg>
<div style="left:694px;top:770px;width:10px;height:3px;background:#3cc83c;"></div>
<svg style="position:absolute;left:690px;top:774px;" width="18" height="7" viewBox="0 0 18 7"><path d="M0 0H18L9.0 6Z" fill="#cc2a10"/></svg>
<div style="left:814px;top:770px;width:22px;height:3px;background:#3cc83c;"></div>
<svg style="position:absolute;left:810px;top:774px;" width="30" height="7" viewBox="0 0 30 7"><path d="M0 0H30L15.0 6Z" fill="#cc2a10"/></svg>
<div style="left:0px;top:858px;width:1191px;height:20px;background:#eeeff2;"></div>
<div style="left:0px;top:878px;width:1559px;height:2px;background:#c9cacd;"></div>
<div style="left:705px;top:873px;width:19px;height:2.5px;background:#0b6bc8;"></div>
<div style="left:322px;top:858px;width:2px;height:20px;background:#c9cacd;"></div>
<div style="left:1085px;top:858px;width:1px;height:20px;background:#d0d1d5;"></div>
<div style="left:1193px;top:155px;width:366px;height:725px;background:#e1e2e6;"></div>
<div style="left:1193px;top:155px;width:366px;height:30.0px;background:#f6f7f9;"></div>
<div class="t" style="left:1240px;top:160.5px;height:21px;line-height:21px;font-size:16.20px;font-weight:bold;color:#2b333b;transform:scaleX(0.9259);transform-origin:0 50%;letter-spacing:0.1px">Bookmarks</div>
<div style="left:1506px;top:155px;width:1px;height:30.0px;background:#d2d3d7;"></div>
<div style="left:1538px;top:155px;width:1px;height:30.0px;background:#d2d3d7;"></div>
<div style="left:1516px;top:169.0px;width:13px;height:2.2px;background:#2b333b;"></div>
<div style="left:1521.4px;top:163.5px;width:2.2px;height:13px;background:#2b333b;"></div>
<div style="left:1193px;top:184.5px;width:366px;height:1px;background:#d2d3d7;"></div>
<svg style="position:absolute;left:1219px;top:200.02499999999998px;" width="11" height="6" viewBox="0 0 11 6"><path d="M0 0H10L5 5.5Z" fill="#2b333b"/></svg>
<div class="t" style="left:1240px;top:192.3px;height:21px;line-height:21px;font-size:16.20px;font-weight:bold;color:#0b6dcc;transform:scaleX(0.9259);transform-origin:0 50%;letter-spacing:0.1px">CPU</div>
<div style="left:1193px;top:215.75px;width:366px;height:1px;background:#d2d3d7;"></div>
<svg style="position:absolute;left:1244px;top:229.075px;" width="6" height="11" viewBox="0 0 6 11"><path d="M0 0V10L5.5 5Z" fill="#2b333b"/></svg>
<div class="t" style="left:1261px;top:223.6px;height:21px;line-height:21px;font-size:16.20px;font-weight:bold;color:#0b6dcc;transform:scaleX(0.9259);transform-origin:0 50%;letter-spacing:0.1px">Kernel</div>
<div style="left:1193px;top:247.0px;width:366px;height:1px;background:#d2d3d7;"></div>
<svg style="position:absolute;left:1219px;top:262.525px;" width="11" height="6" viewBox="0 0 11 6"><path d="M0 0H10L5 5.5Z" fill="#2b333b"/></svg>
<div class="t" style="left:1240px;top:254.8px;height:21px;line-height:21px;font-size:16.20px;font-weight:bold;color:#0b6dcc;transform:scaleX(0.9259);transform-origin:0 50%;letter-spacing:0.1px">GPU 0: Intel(R) UHD Graphics 630</div>
<div style="left:1193px;top:278.25px;width:366px;height:1px;background:#d2d3d7;"></div>
<svg style="position:absolute;left:1240px;top:293.775px;" width="11" height="6" viewBox="0 0 11 6"><path d="M0 0H10L5 5.5Z" fill="#2b333b"/></svg>
<div class="t" style="left:1261px;top:286.1px;height:21px;line-height:21px;font-size:16.20px;font-weight:bold;color:#0b6dcc;transform:scaleX(0.9259);transform-origin:0 50%;letter-spacing:0.1px">Queues</div>
<div style="left:1193px;top:309.5px;width:366px;height:1px;background:#d2d3d7;"></div>
<div class="t" style="left:1282px;top:317.3px;height:21px;line-height:21px;font-size:16.20px;font-weight:normal;color:#0b6dcc;transform:scaleX(0.9259);transform-origin:0 50%;letter-spacing:0.1px;-webkit-text-stroke:0.45px #0b6dcc">3D</div>
<div style="left:1506px;top:310.0px;width:1px;height:31.25px;background:#d2d3d7;"></div>
<div style="left:1538px;top:310.0px;width:1px;height:31.25px;background:#d2d3d7;"></div>
<svg style="position:absolute;left:1512px;top:316.825px;" width="20" height="20" viewBox="0 0 20 20"><g fill="none" stroke="#2b333b" stroke-width="1.35"><rect x="11.2" y="1.8" width="5.2" height="9.5" rx="2.6" transform="rotate(45 13.8 6.55)"/><rect x="3.6" y="9.2" width="5.2" height="9.5" rx="2.6" transform="rotate(45 6.2 13.95)"/><path d="M8.3 11.7L11.7 8.3" stroke-width="1.8"/></g></svg>
<div style="left:1193px;top:340.75px;width:366px;height:1px;background:#d2d3d7;"></div>
<div class="t" style="left:1261px;top:348.6px;height:21px;line-height:21px;font-size:16.20px;font-weight:normal;color:#0b6dcc;transform:scaleX(0.9259);transform-origin:0 50%;letter-spacing:0.1px;-webkit-text-stroke:0.45px #0b6dcc">GPU Context</div>
<div style="left:1506px;top:341.25px;width:1px;height:31.25px;background:#d2d3d7;"></div>
<div style="left:1538px;top:341.25px;width:1px;height:31.25px;background:#d2d3d7;"></div>
<svg style="position:absolute;left:1512px;top:349.575px;" width="19" height="19" viewBox="0 0 19 19"><path d="M4.5 4.5H14.5V13.5Q9.5 11 4.5 13.5Z" fill="#2b333b"/><rect x="3.9" y="0.8" width="1.3" height="2.2" fill="#2b333b"/><rect x="3.9" y="16" width="1.3" height="2.2" fill="#2b333b"/><rect x="6.9" y="0.8" width="1.3" height="2.2" fill="#2b333b"/><rect x="6.9" y="16" width="1.3" height="2.2" fill="#2b333b"/><rect x="10.4" y="0.8" width="1.3" height="2.2" fill="#2b333b"/><rect x="10.4" y="16" width="1.3" height="2.2" fill="#2b333b"/><rect x="13.4" y="0.8" width="1.3" height="2.2" fill="#2b333b"/><rect x="13.4" y="16" width="1.3" height="2.2" fill="#2b333b"/><rect x="0.3" y="4.2" width="2.2" height="1.3" fill="#2b333b"/><rect x="16.5" y="4.2" width="2.2" height="1.3" fill="#2b333b"/><rect x="0.3" y="8.4" width="2.2" height="1.3" fill="#2b333b"/><rect x="16.5" y="8.4" width="2.2" height="1.3" fill="#2b333b"/><rect x="0.3" y="12.4" width="2.2" height="1.3" fill="#2b333b"/><rect x="16.5" y="12.4" width="2.2" height="1.3" fill="#2b333b"/></svg>
<div style="left:1443px;top:341.25px;width:1px;height:31.25px;background:#d2d3d7;"></div>
<div class="t" style="left:1450px;top:348.6px;height:21px;line-height:21px;font-size:16.20px;font-weight:normal;color:#0b6dcc;transform:scaleX(0.9259);transform-origin:0 50%;-webkit-text-stroke:0.45px #0b6dcc">context</div>
<div style="left:1193px;top:372.5px;width:366px;height:31.25px;background:#f6f7f9;"></div>
<div style="left:1193px;top:372.0px;width:366px;height:1px;background:#d2d3d7;"></div>
<svg style="position:absolute;left:1219px;top:387.525px;" width="11" height="6" viewBox="0 0 11 6"><path d="M0 0H10L5 5.5Z" fill="#2b333b"/></svg>
<div class="t" style="left:1240px;top:379.8px;height:21px;line-height:21px;font-size:16.20px;font-weight:bold;color:#2b333b;transform:scaleX(0.9259);transform-origin:0 50%;letter-spacing:0.1px">PCI\VEN_1414&amp;DEV_008B</div>
<div style="left:1193px;top:403.75px;width:366px;height:31.25px;background:#f6f7f9;"></div>
<div style="left:1193px;top:403.25px;width:366px;height:1px;background:#e6e7ea;"></div>
<svg style="position:absolute;left:1240px;top:418.775px;" width="11" height="6" viewBox="0 0 11 6"><path d="M0 0H10L5 5.5Z" fill="#2b333b"/></svg>
<div class="t" style="left:1261px;top:411.1px;height:21px;line-height:21px;font-size:16.20px;font-weight:bold;color:#2b333b;transform:scaleX(0.9259);transform-origin:0 50%;letter-spacing:0.1px">Events</div>
<div style="left:1193px;top:435.0px;width:366px;height:31.25px;background:#f8f9fb;"></div>
<div style="left:1193px;top:434.5px;width:366px;height:1px;background:#e6e7ea;"></div>
<div class="t" style="left:1282px;top:442.3px;height:21px;line-height:21px;font-size:16.20px;font-weight:normal;color:#333a42;transform:scaleX(0.9259);transform-origin:0 50%;letter-spacing:0.1px">VSync 0</div>
<div style="left:1506px;top:435.0px;width:1px;height:31.25px;background:#d2d3d7;"></div>
<div style="left:1538px;top:435.0px;width:1px;height:31.25px;background:#d2d3d7;"></div>
<svg style="position:absolute;left:1514px;top:442.825px;" width="16" height="16" viewBox="0 0 16 16"><rect x="0" y="0" width="2.2" height="16" fill="#f39c12"/><path d="M2 1H15L11.5 4.5L15 8H2Z" fill="#f39c12"/></svg>
<div style="left:1193px;top:465.75px;width:366px;height:1px;background:#d2d3d7;"></div>
<svg style="position:absolute;left:1219px;top:481.275px;" width="11" height="6" viewBox="0 0 11 6"><path d="M0 0H10L5 5.5Z" fill="#2b333b"/></svg>
<div class="t" style="left:1240px;top:473.6px;height:21px;line-height:21px;font-size:16.20px;font-weight:bold;color:#0b6dcc;transform:scaleX(0.9259);transform-origin:0 50%;letter-spacing:0.1px">D3D12nBodyGravity.exe (816)</div>
<div style="left:1193px;top:497.0px;width:366px;height:1px;background:#d2d3d7;"></div>
<svg style="position:absolute;left:1240px;top:512.5250000000001px;" width="11" height="6" viewBox="0 0 11 6"><path d="M0 0H10L5 5.5Z" fill="#2b333b"/></svg>
<div class="t" style="left:1261px;top:504.8px;height:21px;line-height:21px;font-size:16.20px;font-weight:bold;color:#0b6dcc;transform:scaleX(0.9259);transform-origin:0 50%;letter-spacing:0.1px">Queues</div>
<div style="left:1193px;top:528.25px;width:366px;height:1px;background:#d2d3d7;"></div>
<div class="t" style="left:1282px;top:536.1px;height:21px;line-height:21px;font-size:16.20px;font-weight:normal;color:#0b6dcc;transform:scaleX(0.9259);transform-origin:0 50%;letter-spacing:0.1px;-webkit-text-stroke:0.45px #0b6dcc">Device Context</div>
<div style="left:1506px;top:528.75px;width:1px;height:31.25px;background:#d2d3d7;"></div>
<div style="left:1538px;top:528.75px;width:1px;height:31.25px;background:#d2d3d7;"></div>
<svg style="position:absolute;left:1512px;top:535.575px;" width="20" height="20" viewBox="0 0 20 20"><g fill="none" stroke="#2b333b" stroke-width="1.35"><rect x="11.2" y="1.8" width="5.2" height="9.5" rx="2.6" transform="rotate(45 13.8 6.55)"/><rect x="3.6" y="9.2" width="5.2" height="9.5" rx="2.6" transform="rotate(45 6.2 13.95)"/><path d="M8.3 11.7L11.7 8.3" stroke-width="1.8"/></g></svg>
<div style="left:1193px;top:559.5px;width:366px;height:1px;background:#d2d3d7;"></div>
<div class="t" style="left:1282px;top:567.3px;height:21px;line-height:21px;font-size:16.20px;font-weight:normal;color:#0b6dcc;transform:scaleX(0.9259);transform-origin:0 50%;letter-spacing:0.1px;-webkit-text-stroke:0.45px #0b6dcc">Device Context</div>
<div style="left:1506px;top:560.0px;width:1px;height:31.25px;background:#d2d3d7;"></div>
<div style="left:1538px;top:560.0px;width:1px;height:31.25px;background:#d2d3d7;"></div>
<svg style="position:absolute;left:1512px;top:566.825px;" width="20" height="20" viewBox="0 0 20 20"><g fill="none" stroke="#2b333b" stroke-width="1.35"><rect x="11.2" y="1.8" width="5.2" height="9.5" rx="2.6" transform="rotate(45 13.8 6.55)"/><rect x="3.6" y="9.2" width="5.2" height="9.5" rx="2.6" transform="rotate(45 6.2 13.95)"/><path d="M8.3 11.7L11.7 8.3" stroke-width="1.8"/></g></svg>
<div style="left:1193px;top:590.75px;width:366px;height:1px;background:#d2d3d7;"></div>
<svg style="position:absolute;left:1240px;top:606.2750000000001px;" width="11" height="6" viewBox="0 0 11 6"><path d="M0 0H10L5 5.5Z" fill="#2b333b"/></svg>
<div class="t" style="left:1261px;top:598.6px;height:21px;line-height:21px;font-size:16.20px;font-weight:bold;color:#0b6dcc;transform:scaleX(0.9259);transform-origin:0 50%;letter-spacing:0.1px">Metrics</div>
<div style="left:1193px;top:622.0px;width:366px;height:1px;background:#d2d3d7;"></div>
<div class="t" style="left:1282px;top:629.8px;height:21px;line-height:21px;font-size:16.20px;font-weight:normal;color:#0b6dcc;transform:scaleX(0.9259);transform-origin:0 50%;letter-spacing:0.1px;-webkit-text-stroke:0.45px #0b6dcc">Clipper Invocations</div>
<div style="left:1506px;top:622.5px;width:1px;height:31.25px;background:#d2d3d7;"></div>
<div style="left:1538px;top:622.5px;width:1px;height:31.25px;background:#d2d3d7;"></div>
<div style="left:1514.5px;top:631.325px;width:16px;height:16px;background:#dcccfa;"></div>
<div style="left:1193px;top:653.25px;width:366px;height:1px;background:#d2d3d7;"></div>
<div class="t" style="left:1282px;top:661.1px;height:21px;line-height:21px;font-size:16.20px;font-weight:normal;color:#0b6dcc;transform:scaleX(0.9259);transform-origin:0 50%;letter-spacing:0.1px;-webkit-text-stroke:0.45px #0b6dcc">Post-Clip Primitives</div>
<div style="left:1506px;top:653.75px;width:1px;height:31.25px;background:#d2d3d7;"></div>
<div style="left:1538px;top:653.75px;width:1px;height:31.25px;background:#d2d3d7;"></div>
<div style="left:1514.5px;top:662.575px;width:16px;height:16px;background:#dcccfa;"></div>
<div style="left:1193px;top:684.5px;width:366px;height:1px;background:#d2d3d7;"></div>
<div class="t" style="left:1282px;top:692.3px;height:21px;line-height:21px;font-size:16.20px;font-weight:normal;color:#0b6dcc;transform:scaleX(0.9259);transform-origin:0 50%;letter-spacing:0.1px;-webkit-text-stroke:0.45px #0b6dcc">CS Invocations</div>
<div style="left:1506px;top:685.0px;width:1px;height:31.25px;background:#d2d3d7;"></div>
<div style="left:1538px;top:685.0px;width:1px;height:31.25px;background:#d2d3d7;"></div>
<div style="left:1514.5px;top:693.825px;width:16px;height:16px;background:#dcccfa;"></div>
<div style="left:1193px;top:715.75px;width:366px;height:1px;background:#d2d3d7;"></div>
<div class="t" style="left:1282px;top:723.6px;height:21px;line-height:21px;font-size:16.20px;font-weight:normal;color:#0b6dcc;transform:scaleX(0.9259);transform-origin:0 50%;letter-spacing:0.1px;-webkit-text-stroke:0.45px #0b6dcc">DS Invocations</div>
<div style="left:1506px;top:716.25px;width:1px;height:31.25px;background:#d2d3d7;"></div>
<div style="left:1538px;top:716.25px;width:1px;height:31.25px;background:#d2d3d7;"></div>
<div style="left:1514.5px;top:725.075px;width:16px;height:16px;background:#dcccfa;"></div>
<div style="left:1193px;top:747.0px;width:366px;height:1px;background:#d2d3d7;"></div>
<div class="t" style="left:1282px;top:754.8px;height:21px;line-height:21px;font-size:16.20px;font-weight:normal;color:#0b6dcc;transform:scaleX(0.9259);transform-origin:0 50%;letter-spacing:0.1px;-webkit-text-stroke:0.45px #0b6dcc">GPU Time Elapsed</div>
<div style="left:1506px;top:747.5px;width:1px;height:31.25px;background:#d2d3d7;"></div>
<div style="left:1538px;top:747.5px;width:1px;height:31.25px;background:#d2d3d7;"></div>
<div style="left:1514.5px;top:756.325px;width:16px;height:16px;background:#dcccfa;"></div>
<div style="left:1193px;top:778.25px;width:366px;height:1px;background:#d2d3d7;"></div>
<div class="t" style="left:1282px;top:786.1px;height:21px;line-height:21px;font-size:16.20px;font-weight:normal;color:#0b6dcc;transform:scaleX(0.9259);transform-origin:0 50%;letter-spacing:0.1px;-webkit-text-stroke:0.45px #0b6dcc">GS Invocations</div>
<div style="left:1506px;top:778.75px;width:1px;height:31.25px;background:#d2d3d7;"></div>
<div style="left:1538px;top:778.75px;width:1px;height:31.25px;background:#d2d3d7;"></div>
<div style="left:1514.5px;top:787.575px;width:16px;height:16px;background:#dcccfa;"></div>
<div style="left:1193px;top:809.5px;width:366px;height:1px;background:#d2d3d7;"></div>
<div class="t" style="left:1282px;top:817.3px;height:21px;line-height:21px;font-size:16.20px;font-weight:normal;color:#0b6dcc;transform:scaleX(0.9259);transform-origin:0 50%;letter-spacing:0.1px;-webkit-text-stroke:0.45px #0b6dcc">Post-GS Primitives</div>
<div style="left:1506px;top:810.0px;width:1px;height:31.25px;background:#d2d3d7;"></div>
<div style="left:1538px;top:810.0px;width:1px;height:31.25px;background:#d2d3d7;"></div>
<div style="left:1514.5px;top:818.825px;width:16px;height:16px;background:#dcccfa;"></div>
<div style="left:1193px;top:840.75px;width:366px;height:1px;background:#d2d3d7;"></div>
<div class="t" style="left:1282px;top:848.6px;height:21px;line-height:21px;font-size:16.20px;font-weight:normal;color:#0b6dcc;transform:scaleX(0.9259);transform-origin:0 50%;letter-spacing:0.1px;-webkit-text-stroke:0.45px #0b6dcc">HS Invocations</div>
<div style="left:1506px;top:841.25px;width:1px;height:31.25px;background:#d2d3d7;"></div>
<div style="left:1538px;top:841.25px;width:1px;height:31.25px;background:#d2d3d7;"></div>
<div style="left:1514.5px;top:850.075px;width:16px;height:16px;background:#dcccfa;"></div>
<div style="left:1193px;top:872px;width:366px;height:1px;background:#d2d3d7;"></div>
<div style="left:1506px;top:872px;width:1px;height:7px;background:#d2d3d7;"></div>
<div style="left:1538px;top:872px;width:1px;height:7px;background:#d2d3d7;"></div>
<div style="left:1193px;top:466.5px;width:5px;height:125px;background:#0b6bc8;"></div>
<div style="left:1552px;top:155px;width:3px;height:365px;background:#0b6bc8;"></div>
<div style="left:0px;top:880px;width:1559px;height:200px;background:#eeeff2;"></div>
<div style="left:0px;top:880px;width:1024px;height:36px;background:#eeeff2;"></div>
<div style="left:0px;top:916px;width:1024px;height:1px;background:#d3d4d8;"></div>
<div style="left:75px;top:880px;width:1px;height:36px;background:#d3d4d8;"></div>
<div style="left:439.5px;top:880px;width:1px;height:36px;background:#d3d4d8;"></div>
<div style="left:470px;top:880px;width:1px;height:36px;background:#d3d4d8;"></div>
<div style="left:679.5px;top:880px;width:1px;height:36px;background:#d3d4d8;"></div>
<div style="left:783.5px;top:880px;width:1px;height:36px;background:#d3d4d8;"></div>
<div style="left:965.5px;top:880px;width:1px;height:36px;background:#d3d4d8;"></div>
<svg style="position:absolute;left:27px;top:888px;" width="21" height="21" viewBox="0 0 21 21"><rect x="5.75" y="0.20" width="3.50" height="14.60" fill="#2b333b" transform="rotate(0 7.5 7.5)"/><rect x="5.75" y="0.20" width="3.50" height="14.60" fill="#2b333b" transform="rotate(45 7.5 7.5)"/><rect x="5.75" y="0.20" width="3.50" height="14.60" fill="#2b333b" transform="rotate(90 7.5 7.5)"/><rect x="5.75" y="0.20" width="3.50" height="14.60" fill="#2b333b" transform="rotate(135 7.5 7.5)"/><circle cx="7.5" cy="7.5" r="4.96" fill="#2b333b"/><circle cx="7.5" cy="7.5" r="2.19" fill="#eeeff2"/><rect x="14.70" y="11.20" width="2.21" height="9.20" fill="#2b333b" transform="rotate(0 15.8 15.8)"/><rect x="14.70" y="11.20" width="2.21" height="9.20" fill="#2b333b" transform="rotate(45 15.8 15.8)"/><rect x="14.70" y="11.20" width="2.21" height="9.20" fill="#2b333b" transform="rotate(90 15.8 15.8)"/><rect x="14.70" y="11.20" width="2.21" height="9.20" fill="#2b333b" transform="rotate(135 15.8 15.8)"/><circle cx="15.8" cy="15.8" r="3.13" fill="#2b333b"/><circle cx="15.8" cy="15.8" r="1.38" fill="#eeeff2"/></svg>
<div class="t" style="left:87px;top:888.5px;height:20px;line-height:20px;font-size:15.62px;font-weight:normal;color:#3a4048;transform:scaleX(0.9346);transform-origin:0 50%;">Name</div>
<div class="t" style="left:482px;top:888.5px;height:20px;line-height:20px;font-size:15.62px;font-weight:normal;color:#3a4048;transform:scaleX(0.9346);transform-origin:0 50%;">Track</div>
<div class="t" style="left:690px;top:888.5px;height:20px;line-height:20px;font-size:15.62px;font-weight:normal;color:#3a4048;transform:scaleX(0.9346);transform-origin:0 50%;">Count</div>
<div class="t" style="left:795px;top:888.5px;height:20px;line-height:20px;font-size:15.62px;font-weight:normal;color:#3a4048;transform:scaleX(0.9346);transform-origin:0 50%;">Duration (ns)</div>
<svg style="position:absolute;left:942px;top:897px;" width="11" height="6" viewBox="0 0 11 6"><path d="M0 0H10L5 5Z" fill="#2b333b"/></svg>
<div style="left:0px;top:917px;width:1024px;height:123px;background:#f6f7f9;"></div>
<div style="left:0px;top:947.5px;width:966px;height:1px;background:#d8d9dc;"></div>
<div style="left:0px;top:979px;width:966px;height:1px;background:#d8d9dc;"></div>
<div style="left:0px;top:1010px;width:966px;height:1px;background:#d8d9dc;"></div>
<div style="left:1017px;top:917px;width:2.5px;height:71px;background:#0b6bc8;"></div>
<div style="left:1024px;top:880px;width:1.5px;height:160px;background:#d3d4d8;"></div>
<div style="left:784px;top:922px;width:176px;height:20px;background:#cde8fc;"></div>
<div style="left:784px;top:953px;width:1.5px;height:20px;background:#cde8fc;"></div>
<div class="t" style="left:31px;top:921.6px;height:20px;line-height:20px;font-size:15.50px;font-weight:normal;color:#a7adb4;">0</div>
<div class="t" style="left:87px;top:921.6px;height:20px;line-height:20px;font-size:16.11px;font-weight:normal;color:#373d44;transform:scaleX(0.9434);transform-origin:0 50%;">WaitForSingleObjectEx</div>
<svg style="position:absolute;left:448.5px;top:927.6px;" width="16" height="9" viewBox="0 0 16 9"><path d="M0.3 4.5C3 1 6 0.2 8 0.2S13 1 15.7 4.5C13 8 10 8.8 8 8.8S3 8 0.3 4.5Z" fill="#c9cdd2"/><circle cx="8" cy="4.5" r="2.5" fill="#f6f7f9"/></svg>
<div class="t" style="left:482px;top:921.6px;height:20px;line-height:20px;font-size:15.69px;font-weight:normal;color:#373d44;transform:scaleX(0.9434);transform-origin:0 50%;">Thread 11176 - D3D12nB...</div>
<div class="t" style="left:373px;width:400px;text-align:right;top:921.6px;height:20px;line-height:20px;font-size:15.77px;font-weight:normal;color:#373d44;transform:scaleX(0.9259);transform-origin:100% 50%;">1</div>
<div class="t" style="left:556px;width:400px;text-align:right;top:921.6px;height:20px;line-height:20px;font-size:15.77px;font-weight:normal;color:#373d44;transform:scaleX(0.9259);transform-origin:100% 50%;">8,842,300</div>
<div class="t" style="left:31px;top:953.0px;height:20px;line-height:20px;font-size:15.50px;font-weight:normal;color:#a7adb4;">1</div>
<div class="t" style="left:87px;top:953.0px;height:20px;line-height:20px;font-size:16.11px;font-weight:normal;color:#373d44;transform:scaleX(0.9434);transform-origin:0 50%;">ID3D12CommandQueue::Wait</div>
<svg style="position:absolute;left:448.5px;top:959px;" width="16" height="9" viewBox="0 0 16 9"><path d="M0.3 4.5C3 1 6 0.2 8 0.2S13 1 15.7 4.5C13 8 10 8.8 8 8.8S3 8 0.3 4.5Z" fill="#c9cdd2"/><circle cx="8" cy="4.5" r="2.5" fill="#f6f7f9"/></svg>
<div class="t" style="left:482px;top:953.0px;height:20px;line-height:20px;font-size:15.69px;font-weight:normal;color:#373d44;transform:scaleX(0.9434);transform-origin:0 50%;">Thread 11032 - D3D12nB...</div>
<div class="t" style="left:373px;width:400px;text-align:right;top:953.0px;height:20px;line-height:20px;font-size:15.77px;font-weight:normal;color:#373d44;transform:scaleX(0.9259);transform-origin:100% 50%;">1</div>
<div class="t" style="left:556px;width:400px;text-align:right;top:953.0px;height:20px;line-height:20px;font-size:15.77px;font-weight:normal;color:#373d44;transform:scaleX(0.9259);transform-origin:100% 50%;">55,700</div>
<div class="t" style="left:31px;top:984.0px;height:20px;line-height:20px;font-size:15.50px;font-weight:normal;color:#a7adb4;">2</div>
<div class="t" style="left:87px;top:984.0px;height:20px;line-height:20px;font-size:16.11px;font-weight:normal;color:#373d44;transform:scaleX(0.9434);transform-origin:0 50%;">DxgkWaitForSynchronizationObject</div>
<svg style="position:absolute;left:448.5px;top:990px;" width="16" height="9" viewBox="0 0 16 9"><path d="M0.3 4.5C3 1 6 0.2 8 0.2S13 1 15.7 4.5C13 8 10 8.8 8 8.8S3 8 0.3 4.5Z" fill="#c9cdd2"/><circle cx="8" cy="4.5" r="2.5" fill="#f6f7f9"/></svg>
<div class="t" style="left:482px;top:984.0px;height:20px;line-height:20px;font-size:15.69px;font-weight:normal;color:#373d44;transform:scaleX(0.9434);transform-origin:0 50%;">Thread 11032 - D3D12nB...</div>
<div class="t" style="left:373px;width:400px;text-align:right;top:984.0px;height:20px;line-height:20px;font-size:15.77px;font-weight:normal;color:#373d44;transform:scaleX(0.9259);transform-origin:100% 50%;">1</div>
<div class="t" style="left:556px;width:400px;text-align:right;top:984.0px;height:20px;line-height:20px;font-size:15.77px;font-weight:normal;color:#373d44;transform:scaleX(0.9259);transform-origin:100% 50%;">25,600</div>
<div class="t" style="left:31px;top:1015.0px;height:20px;line-height:20px;font-size:15.50px;font-weight:normal;color:#a7adb4;">3</div>
<div class="t" style="left:87px;top:1015.0px;height:20px;line-height:20px;font-size:16.11px;font-weight:normal;color:#373d44;transform:scaleX(0.9434);transform-origin:0 50%;">ID3D12CommandQueue::Signal</div>
<svg style="position:absolute;left:448.5px;top:1021px;" width="16" height="9" viewBox="0 0 16 9"><path d="M0.3 4.5C3 1 6 0.2 8 0.2S13 1 15.7 4.5C13 8 10 8.8 8 8.8S3 8 0.3 4.5Z" fill="#c9cdd2"/><circle cx="8" cy="4.5" r="2.5" fill="#f6f7f9"/></svg>
<div class="t" style="left:482px;top:1015.0px;height:20px;line-height:20px;font-size:15.69px;font-weight:normal;color:#373d44;transform:scaleX(0.9434);transform-origin:0 50%;">Thread 11176 - D3D12nB...</div>
<div class="t" style="left:373px;width:400px;text-align:right;top:1015.0px;height:20px;line-height:20px;font-size:15.77px;font-weight:normal;color:#373d44;transform:scaleX(0.9259);transform-origin:100% 50%;">1</div>
<div class="t" style="left:556px;width:400px;text-align:right;top:1015.0px;height:20px;line-height:20px;font-size:15.77px;font-weight:normal;color:#373d44;transform:scaleX(0.9259);transform-origin:100% 50%;">20,800</div>
<div style="left:1025.5px;top:880px;width:262px;height:36px;background:#eeeff2;"></div>
<div style="left:1025.5px;top:916px;width:534px;height:1px;background:#d3d4d8;"></div>
<div style="left:1103.5px;top:880px;width:1px;height:36px;background:#d3d4d8;"></div>
<svg style="position:absolute;left:1055px;top:889px;" width="21" height="21" viewBox="0 0 21 21"><rect x="5.75" y="0.20" width="3.50" height="14.60" fill="#2b333b" transform="rotate(0 7.5 7.5)"/><rect x="5.75" y="0.20" width="3.50" height="14.60" fill="#2b333b" transform="rotate(45 7.5 7.5)"/><rect x="5.75" y="0.20" width="3.50" height="14.60" fill="#2b333b" transform="rotate(90 7.5 7.5)"/><rect x="5.75" y="0.20" width="3.50" height="14.60" fill="#2b333b" transform="rotate(135 7.5 7.5)"/><circle cx="7.5" cy="7.5" r="4.96" fill="#2b333b"/><circle cx="7.5" cy="7.5" r="2.19" fill="#eeeff2"/><rect x="14.70" y="11.20" width="2.21" height="9.20" fill="#2b333b" transform="rotate(0 15.8 15.8)"/><rect x="14.70" y="11.20" width="2.21" height="9.20" fill="#2b333b" transform="rotate(45 15.8 15.8)"/><rect x="14.70" y="11.20" width="2.21" height="9.20" fill="#2b333b" transform="rotate(90 15.8 15.8)"/><rect x="14.70" y="11.20" width="2.21" height="9.20" fill="#2b333b" transform="rotate(135 15.8 15.8)"/><circle cx="15.8" cy="15.8" r="3.13" fill="#2b333b"/><circle cx="15.8" cy="15.8" r="1.38" fill="#eeeff2"/></svg>
<div class="t" style="left:1115px;top:888.5px;height:20px;line-height:20px;font-size:15.62px;font-weight:normal;color:#3a4048;transform:scaleX(0.9346);transform-origin:0 50%;">Total Time (ns)</div>
<div style="left:1026px;top:1033px;width:167px;height:2.5px;background:#0b6bc8;"></div>
<div style="left:1286.5px;top:880px;width:1.5px;height:160px;background:#d3d4d8;"></div>
<div class="t" style="left:1298px;top:888.5px;height:20px;line-height:20px;font-size:16.02px;font-weight:normal;color:#3a4048;transform:scaleX(0.9615);transform-origin:0 50%;">No event selected</div>
<div style="left:1288px;top:917px;width:271px;height:123px;background:#e1e2e6;"></div>
<div class="t" style="left:1298px;top:922.5px;height:20px;line-height:20px;font-size:16.02px;font-weight:normal;color:#3a4048;transform:scaleX(0.9615);transform-origin:0 50%;">No arguments available</div>
<div style="left:0px;top:1040px;width:1559px;height:1px;background:#d3d4d8;"></div>
<div class="t" style="left:50px;top:1052.0px;height:20px;line-height:20px;font-size:15.62px;font-weight:normal;color:#3a4048;transform:scaleX(0.9346);transform-origin:0 50%;">Packages</div>
<div style="left:166px;top:1041px;width:165px;height:39px;background:#f7f8fa;border-left:1px solid #d3d4d8;border-right:1px solid #d3d4d8;box-sizing:border-box"></div>
<div style="left:166px;top:1076px;width:165px;height:4px;background:#0b6bc8;"></div>
<svg style="position:absolute;left:180px;top:1057px;" width="13" height="9" viewBox="0 0 13 9"><path d="M1 1.5L6.5 7L12 1.5" stroke="#2b333b" stroke-width="1.8" fill="none"/></svg>
<div class="t" style="left:205px;top:1053.0px;height:18px;line-height:18px;font-size:14.60px;font-weight:bold;color:#2b333b;">Regions</div>
<div style="left:671px;top:155px;width:117px;height:702px;background:rgba(25,30,55,0.095);"></div>
<svg style="position:absolute;left:0px;top:0px;pointer-events:none" width="1559" height="1080" viewBox="0 0 1559 1080"><path d="M671 850V645" stroke="#ee8a55" stroke-width="2.4" fill="none"/><path d="M665 646L671 634L677 646Z" fill="#ee8a55"/><path d="M696.4 801V580" stroke="#ee8a55" stroke-width="2.4" fill="none"/><path d="M690.5 581L696 569.5L702 581Z" fill="#ee8a55"/><circle cx="696.4" cy="806.3" r="4.6" fill="#ffffff" stroke="#ee8a55" stroke-width="2.2"/><path d="M785.5 850V655" stroke="#1f9a22" stroke-width="2.6" fill="none"/><path d="M789 648C801 646 801 628 793 612C786 598 768 585 765 570C763 558 770 551 779 553" stroke="#1f9a22" stroke-width="2.6" fill="none"/><path d="M776 546L789 553L777 560Z" fill="#1f9a22"/><circle cx="785.5" cy="649.7" r="4.8" fill="#ffffff" stroke="#1f9a22" stroke-width="2.4"/><rect x="633.8" y="423.8" width="243.4" height="431.4" fill="none" stroke="#ff9a00" stroke-width="9.2" rx="0"/></svg>
<svg style="position:absolute;left:649px;top:-2px;" width="62" height="62" viewBox="0 0 62 62"><circle cx="31" cy="31" r="28.6" fill="#ffc000" stroke="#b48a06" stroke-width="1.8"/></svg>
<div class="t" style="left:649px;top:-2px;width:62px;height:62px;line-height:62px;text-align:center;font-size:33px;font-weight:bold;color:#000">1</div>
<svg style="position:absolute;left:765.5px;top:44px;" width="62" height="62" viewBox="0 0 62 62"><circle cx="31" cy="31" r="28.6" fill="#ffc000" stroke="#b48a06" stroke-width="1.8"/></svg>
<div class="t" style="left:765.5px;top:44px;width:62px;height:62px;line-height:62px;text-align:center;font-size:33px;font-weight:bold;color:#000">2</div>
<svg style="position:absolute;left:532.5px;top:99px;" width="62" height="62" viewBox="0 0 62 62"><circle cx="31" cy="31" r="28.6" fill="#ffc000" stroke="#b48a06" stroke-width="1.8"/></svg>
<div class="t" style="left:532.5px;top:99px;width:62px;height:62px;line-height:62px;text-align:center;font-size:33px;font-weight:bold;color:#000">3</div>
<svg style="position:absolute;left:307px;top:156.5px;" width="62" height="62" viewBox="0 0 62 62"><circle cx="31" cy="31" r="28.6" fill="#ffc000" stroke="#b48a06" stroke-width="1.8"/></svg>
<div class="t" style="left:307px;top:156.5px;width:62px;height:62px;line-height:62px;text-align:center;font-size:33px;font-weight:bold;color:#000">4</div>
<svg style="position:absolute;left:1487px;top:251px;" width="62" height="62" viewBox="0 0 62 62"><circle cx="31" cy="31" r="28.6" fill="#ffc000" stroke="#b48a06" stroke-width="1.8"/></svg>
<div class="t" style="left:1487px;top:251px;width:62px;height:62px;line-height:62px;text-align:center;font-size:33px;font-weight:bold;color:#000">5</div>
<svg style="position:absolute;left:601.7px;top:509px;" width="62" height="62" viewBox="0 0 62 62"><circle cx="31" cy="31" r="28.6" fill="#ffc000" stroke="#b48a06" stroke-width="1.8"/></svg>
<div class="t" style="left:601.7px;top:509px;width:62px;height:62px;line-height:62px;text-align:center;font-size:33px;font-weight:bold;color:#000">6</div>
<svg style="position:absolute;left:680.5px;top:920px;" width="62" height="62" viewBox="0 0 62 62"><circle cx="31" cy="31" r="28.6" fill="#ffc000" stroke="#b48a06" stroke-width="1.8"/></svg>
<div class="t" style="left:680.5px;top:920px;width:62px;height:62px;line-height:62px;text-align:center;font-size:33px;font-weight:bold;color:#000">7</div>
</body></html>
